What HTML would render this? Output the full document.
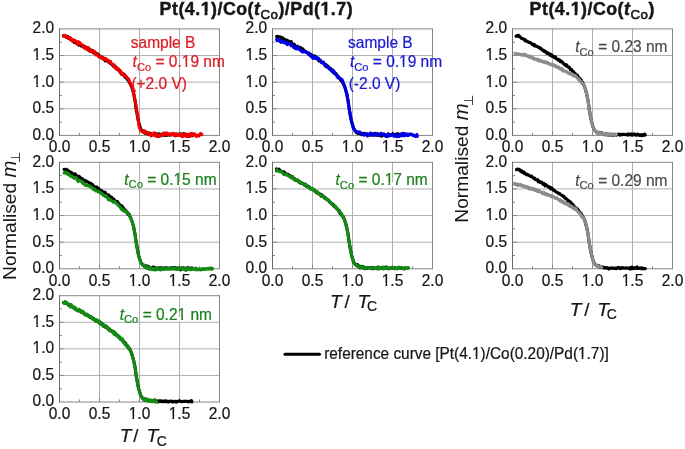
<!DOCTYPE html>
<html><head><meta charset="utf-8"><style>html,body{margin:0;padding:0;background:#fff;}svg{display:block;filter:blur(0.35px)}</style></head>
<body><svg width="685" height="449" viewBox="0 0 685 449">
<rect width="685" height="449" fill="#fff"/>
<line x1="99.50" y1="28.90" x2="99.50" y2="135.40" stroke="#b0b0b0" stroke-width="1"/>
<line x1="59.50" y1="108.78" x2="219.50" y2="108.78" stroke="#b0b0b0" stroke-width="1"/>
<line x1="139.50" y1="28.90" x2="139.50" y2="135.40" stroke="#b0b0b0" stroke-width="1"/>
<line x1="59.50" y1="82.15" x2="219.50" y2="82.15" stroke="#b0b0b0" stroke-width="1"/>
<line x1="179.50" y1="28.90" x2="179.50" y2="135.40" stroke="#b0b0b0" stroke-width="1"/>
<line x1="59.50" y1="55.53" x2="219.50" y2="55.53" stroke="#b0b0b0" stroke-width="1"/>
<line x1="79.50" y1="135.40" x2="79.50" y2="132.90" stroke="#858585" stroke-width="1"/>
<line x1="59.50" y1="122.09" x2="62.00" y2="122.09" stroke="#858585" stroke-width="1"/>
<line x1="99.50" y1="135.40" x2="99.50" y2="131.40" stroke="#858585" stroke-width="1"/>
<line x1="59.50" y1="108.78" x2="63.50" y2="108.78" stroke="#858585" stroke-width="1"/>
<line x1="119.50" y1="135.40" x2="119.50" y2="132.90" stroke="#858585" stroke-width="1"/>
<line x1="59.50" y1="95.46" x2="62.00" y2="95.46" stroke="#858585" stroke-width="1"/>
<line x1="139.50" y1="135.40" x2="139.50" y2="131.40" stroke="#858585" stroke-width="1"/>
<line x1="59.50" y1="82.15" x2="63.50" y2="82.15" stroke="#858585" stroke-width="1"/>
<line x1="159.50" y1="135.40" x2="159.50" y2="132.90" stroke="#858585" stroke-width="1"/>
<line x1="59.50" y1="68.84" x2="62.00" y2="68.84" stroke="#858585" stroke-width="1"/>
<line x1="179.50" y1="135.40" x2="179.50" y2="131.40" stroke="#858585" stroke-width="1"/>
<line x1="59.50" y1="55.53" x2="63.50" y2="55.53" stroke="#858585" stroke-width="1"/>
<line x1="199.50" y1="135.40" x2="199.50" y2="132.90" stroke="#858585" stroke-width="1"/>
<line x1="59.50" y1="42.21" x2="62.00" y2="42.21" stroke="#858585" stroke-width="1"/>
<rect x="59.50" y="28.90" width="160.00" height="106.50" fill="none" stroke="#858585" stroke-width="1"/>
<line x1="59.50" y1="28.40" x2="59.50" y2="135.90" stroke="#6c6c6c" stroke-width="1"/>
<g transform="translate(54.10,139.80) scale(1,1.05)"><text text-anchor="end" font-family="Liberation Sans, sans-serif" font-size="15.5" fill="#161616" stroke="#161616" stroke-width="0.22">0.0</text></g>
<g transform="translate(59.50,152.40) scale(1,1.05)"><text text-anchor="middle" font-family="Liberation Sans, sans-serif" font-size="15.5" fill="#161616" stroke="#161616" stroke-width="0.22">0.0</text></g>
<g transform="translate(54.10,113.18) scale(1,1.05)"><text text-anchor="end" font-family="Liberation Sans, sans-serif" font-size="15.5" fill="#161616" stroke="#161616" stroke-width="0.22">0.5</text></g>
<g transform="translate(99.50,152.40) scale(1,1.05)"><text text-anchor="middle" font-family="Liberation Sans, sans-serif" font-size="15.5" fill="#161616" stroke="#161616" stroke-width="0.22">0.5</text></g>
<g transform="translate(54.10,86.55) scale(1,1.05)"><text text-anchor="end" font-family="Liberation Sans, sans-serif" font-size="15.5" fill="#161616" stroke="#161616" stroke-width="0.22">1.0</text><rect x="-21.49" y="-2.46" width="3.66" height="3.86" fill="#fff"/><rect x="-16.08" y="-2.46" width="3.16" height="3.86" fill="#fff"/></g>
<g transform="translate(139.50,152.40) scale(1,1.05)"><text text-anchor="middle" font-family="Liberation Sans, sans-serif" font-size="15.5" fill="#161616" stroke="#161616" stroke-width="0.22">1.0</text><rect x="-10.72" y="-2.46" width="3.66" height="3.86" fill="#fff"/><rect x="-5.31" y="-2.46" width="3.16" height="3.86" fill="#fff"/></g>
<g transform="translate(54.10,59.93) scale(1,1.05)"><text text-anchor="end" font-family="Liberation Sans, sans-serif" font-size="15.5" fill="#161616" stroke="#161616" stroke-width="0.22">1.5</text><rect x="-21.49" y="-2.46" width="3.66" height="3.86" fill="#fff"/><rect x="-16.08" y="-2.46" width="3.16" height="3.86" fill="#fff"/></g>
<g transform="translate(179.50,152.40) scale(1,1.05)"><text text-anchor="middle" font-family="Liberation Sans, sans-serif" font-size="15.5" fill="#161616" stroke="#161616" stroke-width="0.22">1.5</text><rect x="-10.72" y="-2.46" width="3.66" height="3.86" fill="#fff"/><rect x="-5.31" y="-2.46" width="3.16" height="3.86" fill="#fff"/></g>
<g transform="translate(54.10,33.30) scale(1,1.05)"><text text-anchor="end" font-family="Liberation Sans, sans-serif" font-size="15.5" fill="#161616" stroke="#161616" stroke-width="0.22">2.0</text></g>
<g transform="translate(219.50,152.40) scale(1,1.05)"><text text-anchor="middle" font-family="Liberation Sans, sans-serif" font-size="15.5" fill="#161616" stroke="#161616" stroke-width="0.22">2.0</text></g>
<line x1="312.50" y1="28.90" x2="312.50" y2="135.40" stroke="#b0b0b0" stroke-width="1"/>
<line x1="272.50" y1="108.78" x2="432.50" y2="108.78" stroke="#b0b0b0" stroke-width="1"/>
<line x1="352.50" y1="28.90" x2="352.50" y2="135.40" stroke="#b0b0b0" stroke-width="1"/>
<line x1="272.50" y1="82.15" x2="432.50" y2="82.15" stroke="#b0b0b0" stroke-width="1"/>
<line x1="392.50" y1="28.90" x2="392.50" y2="135.40" stroke="#b0b0b0" stroke-width="1"/>
<line x1="272.50" y1="55.53" x2="432.50" y2="55.53" stroke="#b0b0b0" stroke-width="1"/>
<line x1="292.50" y1="135.40" x2="292.50" y2="132.90" stroke="#858585" stroke-width="1"/>
<line x1="272.50" y1="122.09" x2="275.00" y2="122.09" stroke="#858585" stroke-width="1"/>
<line x1="312.50" y1="135.40" x2="312.50" y2="131.40" stroke="#858585" stroke-width="1"/>
<line x1="272.50" y1="108.78" x2="276.50" y2="108.78" stroke="#858585" stroke-width="1"/>
<line x1="332.50" y1="135.40" x2="332.50" y2="132.90" stroke="#858585" stroke-width="1"/>
<line x1="272.50" y1="95.46" x2="275.00" y2="95.46" stroke="#858585" stroke-width="1"/>
<line x1="352.50" y1="135.40" x2="352.50" y2="131.40" stroke="#858585" stroke-width="1"/>
<line x1="272.50" y1="82.15" x2="276.50" y2="82.15" stroke="#858585" stroke-width="1"/>
<line x1="372.50" y1="135.40" x2="372.50" y2="132.90" stroke="#858585" stroke-width="1"/>
<line x1="272.50" y1="68.84" x2="275.00" y2="68.84" stroke="#858585" stroke-width="1"/>
<line x1="392.50" y1="135.40" x2="392.50" y2="131.40" stroke="#858585" stroke-width="1"/>
<line x1="272.50" y1="55.53" x2="276.50" y2="55.53" stroke="#858585" stroke-width="1"/>
<line x1="412.50" y1="135.40" x2="412.50" y2="132.90" stroke="#858585" stroke-width="1"/>
<line x1="272.50" y1="42.21" x2="275.00" y2="42.21" stroke="#858585" stroke-width="1"/>
<rect x="272.50" y="28.90" width="160.00" height="106.50" fill="none" stroke="#858585" stroke-width="1"/>
<line x1="272.50" y1="28.40" x2="272.50" y2="135.90" stroke="#6c6c6c" stroke-width="1"/>
<g transform="translate(267.10,139.80) scale(1,1.05)"><text text-anchor="end" font-family="Liberation Sans, sans-serif" font-size="15.5" fill="#161616" stroke="#161616" stroke-width="0.22">0.0</text></g>
<g transform="translate(272.50,152.40) scale(1,1.05)"><text text-anchor="middle" font-family="Liberation Sans, sans-serif" font-size="15.5" fill="#161616" stroke="#161616" stroke-width="0.22">0.0</text></g>
<g transform="translate(267.10,113.18) scale(1,1.05)"><text text-anchor="end" font-family="Liberation Sans, sans-serif" font-size="15.5" fill="#161616" stroke="#161616" stroke-width="0.22">0.5</text></g>
<g transform="translate(312.50,152.40) scale(1,1.05)"><text text-anchor="middle" font-family="Liberation Sans, sans-serif" font-size="15.5" fill="#161616" stroke="#161616" stroke-width="0.22">0.5</text></g>
<g transform="translate(267.10,86.55) scale(1,1.05)"><text text-anchor="end" font-family="Liberation Sans, sans-serif" font-size="15.5" fill="#161616" stroke="#161616" stroke-width="0.22">1.0</text><rect x="-21.49" y="-2.46" width="3.66" height="3.86" fill="#fff"/><rect x="-16.08" y="-2.46" width="3.16" height="3.86" fill="#fff"/></g>
<g transform="translate(352.50,152.40) scale(1,1.05)"><text text-anchor="middle" font-family="Liberation Sans, sans-serif" font-size="15.5" fill="#161616" stroke="#161616" stroke-width="0.22">1.0</text><rect x="-10.72" y="-2.46" width="3.66" height="3.86" fill="#fff"/><rect x="-5.31" y="-2.46" width="3.16" height="3.86" fill="#fff"/></g>
<g transform="translate(267.10,59.93) scale(1,1.05)"><text text-anchor="end" font-family="Liberation Sans, sans-serif" font-size="15.5" fill="#161616" stroke="#161616" stroke-width="0.22">1.5</text><rect x="-21.49" y="-2.46" width="3.66" height="3.86" fill="#fff"/><rect x="-16.08" y="-2.46" width="3.16" height="3.86" fill="#fff"/></g>
<g transform="translate(392.50,152.40) scale(1,1.05)"><text text-anchor="middle" font-family="Liberation Sans, sans-serif" font-size="15.5" fill="#161616" stroke="#161616" stroke-width="0.22">1.5</text><rect x="-10.72" y="-2.46" width="3.66" height="3.86" fill="#fff"/><rect x="-5.31" y="-2.46" width="3.16" height="3.86" fill="#fff"/></g>
<g transform="translate(267.10,33.30) scale(1,1.05)"><text text-anchor="end" font-family="Liberation Sans, sans-serif" font-size="15.5" fill="#161616" stroke="#161616" stroke-width="0.22">2.0</text></g>
<g transform="translate(432.50,152.40) scale(1,1.05)"><text text-anchor="middle" font-family="Liberation Sans, sans-serif" font-size="15.5" fill="#161616" stroke="#161616" stroke-width="0.22">2.0</text></g>
<line x1="552.50" y1="28.90" x2="552.50" y2="135.40" stroke="#b0b0b0" stroke-width="1"/>
<line x1="512.50" y1="108.78" x2="672.50" y2="108.78" stroke="#b0b0b0" stroke-width="1"/>
<line x1="592.50" y1="28.90" x2="592.50" y2="135.40" stroke="#b0b0b0" stroke-width="1"/>
<line x1="512.50" y1="82.15" x2="672.50" y2="82.15" stroke="#b0b0b0" stroke-width="1"/>
<line x1="632.50" y1="28.90" x2="632.50" y2="135.40" stroke="#b0b0b0" stroke-width="1"/>
<line x1="512.50" y1="55.53" x2="672.50" y2="55.53" stroke="#b0b0b0" stroke-width="1"/>
<line x1="532.50" y1="135.40" x2="532.50" y2="132.90" stroke="#858585" stroke-width="1"/>
<line x1="512.50" y1="122.09" x2="515.00" y2="122.09" stroke="#858585" stroke-width="1"/>
<line x1="552.50" y1="135.40" x2="552.50" y2="131.40" stroke="#858585" stroke-width="1"/>
<line x1="512.50" y1="108.78" x2="516.50" y2="108.78" stroke="#858585" stroke-width="1"/>
<line x1="572.50" y1="135.40" x2="572.50" y2="132.90" stroke="#858585" stroke-width="1"/>
<line x1="512.50" y1="95.46" x2="515.00" y2="95.46" stroke="#858585" stroke-width="1"/>
<line x1="592.50" y1="135.40" x2="592.50" y2="131.40" stroke="#858585" stroke-width="1"/>
<line x1="512.50" y1="82.15" x2="516.50" y2="82.15" stroke="#858585" stroke-width="1"/>
<line x1="612.50" y1="135.40" x2="612.50" y2="132.90" stroke="#858585" stroke-width="1"/>
<line x1="512.50" y1="68.84" x2="515.00" y2="68.84" stroke="#858585" stroke-width="1"/>
<line x1="632.50" y1="135.40" x2="632.50" y2="131.40" stroke="#858585" stroke-width="1"/>
<line x1="512.50" y1="55.53" x2="516.50" y2="55.53" stroke="#858585" stroke-width="1"/>
<line x1="652.50" y1="135.40" x2="652.50" y2="132.90" stroke="#858585" stroke-width="1"/>
<line x1="512.50" y1="42.21" x2="515.00" y2="42.21" stroke="#858585" stroke-width="1"/>
<rect x="512.50" y="28.90" width="160.00" height="106.50" fill="none" stroke="#858585" stroke-width="1"/>
<line x1="512.50" y1="28.40" x2="512.50" y2="135.90" stroke="#6c6c6c" stroke-width="1"/>
<g transform="translate(507.10,139.80) scale(1,1.05)"><text text-anchor="end" font-family="Liberation Sans, sans-serif" font-size="15.5" fill="#161616" stroke="#161616" stroke-width="0.22">0.0</text></g>
<g transform="translate(512.50,152.40) scale(1,1.05)"><text text-anchor="middle" font-family="Liberation Sans, sans-serif" font-size="15.5" fill="#161616" stroke="#161616" stroke-width="0.22">0.0</text></g>
<g transform="translate(507.10,113.18) scale(1,1.05)"><text text-anchor="end" font-family="Liberation Sans, sans-serif" font-size="15.5" fill="#161616" stroke="#161616" stroke-width="0.22">0.5</text></g>
<g transform="translate(552.50,152.40) scale(1,1.05)"><text text-anchor="middle" font-family="Liberation Sans, sans-serif" font-size="15.5" fill="#161616" stroke="#161616" stroke-width="0.22">0.5</text></g>
<g transform="translate(507.10,86.55) scale(1,1.05)"><text text-anchor="end" font-family="Liberation Sans, sans-serif" font-size="15.5" fill="#161616" stroke="#161616" stroke-width="0.22">1.0</text><rect x="-21.49" y="-2.46" width="3.66" height="3.86" fill="#fff"/><rect x="-16.08" y="-2.46" width="3.16" height="3.86" fill="#fff"/></g>
<g transform="translate(592.50,152.40) scale(1,1.05)"><text text-anchor="middle" font-family="Liberation Sans, sans-serif" font-size="15.5" fill="#161616" stroke="#161616" stroke-width="0.22">1.0</text><rect x="-10.72" y="-2.46" width="3.66" height="3.86" fill="#fff"/><rect x="-5.31" y="-2.46" width="3.16" height="3.86" fill="#fff"/></g>
<g transform="translate(507.10,59.93) scale(1,1.05)"><text text-anchor="end" font-family="Liberation Sans, sans-serif" font-size="15.5" fill="#161616" stroke="#161616" stroke-width="0.22">1.5</text><rect x="-21.49" y="-2.46" width="3.66" height="3.86" fill="#fff"/><rect x="-16.08" y="-2.46" width="3.16" height="3.86" fill="#fff"/></g>
<g transform="translate(632.50,152.40) scale(1,1.05)"><text text-anchor="middle" font-family="Liberation Sans, sans-serif" font-size="15.5" fill="#161616" stroke="#161616" stroke-width="0.22">1.5</text><rect x="-10.72" y="-2.46" width="3.66" height="3.86" fill="#fff"/><rect x="-5.31" y="-2.46" width="3.16" height="3.86" fill="#fff"/></g>
<g transform="translate(507.10,33.30) scale(1,1.05)"><text text-anchor="end" font-family="Liberation Sans, sans-serif" font-size="15.5" fill="#161616" stroke="#161616" stroke-width="0.22">2.0</text></g>
<g transform="translate(672.50,152.40) scale(1,1.05)"><text text-anchor="middle" font-family="Liberation Sans, sans-serif" font-size="15.5" fill="#161616" stroke="#161616" stroke-width="0.22">2.0</text></g>
<line x1="99.50" y1="162.30" x2="99.50" y2="268.80" stroke="#b0b0b0" stroke-width="1"/>
<line x1="59.50" y1="242.18" x2="219.50" y2="242.18" stroke="#b0b0b0" stroke-width="1"/>
<line x1="139.50" y1="162.30" x2="139.50" y2="268.80" stroke="#b0b0b0" stroke-width="1"/>
<line x1="59.50" y1="215.55" x2="219.50" y2="215.55" stroke="#b0b0b0" stroke-width="1"/>
<line x1="179.50" y1="162.30" x2="179.50" y2="268.80" stroke="#b0b0b0" stroke-width="1"/>
<line x1="59.50" y1="188.93" x2="219.50" y2="188.93" stroke="#b0b0b0" stroke-width="1"/>
<line x1="79.50" y1="268.80" x2="79.50" y2="266.30" stroke="#858585" stroke-width="1"/>
<line x1="59.50" y1="255.49" x2="62.00" y2="255.49" stroke="#858585" stroke-width="1"/>
<line x1="99.50" y1="268.80" x2="99.50" y2="264.80" stroke="#858585" stroke-width="1"/>
<line x1="59.50" y1="242.18" x2="63.50" y2="242.18" stroke="#858585" stroke-width="1"/>
<line x1="119.50" y1="268.80" x2="119.50" y2="266.30" stroke="#858585" stroke-width="1"/>
<line x1="59.50" y1="228.86" x2="62.00" y2="228.86" stroke="#858585" stroke-width="1"/>
<line x1="139.50" y1="268.80" x2="139.50" y2="264.80" stroke="#858585" stroke-width="1"/>
<line x1="59.50" y1="215.55" x2="63.50" y2="215.55" stroke="#858585" stroke-width="1"/>
<line x1="159.50" y1="268.80" x2="159.50" y2="266.30" stroke="#858585" stroke-width="1"/>
<line x1="59.50" y1="202.24" x2="62.00" y2="202.24" stroke="#858585" stroke-width="1"/>
<line x1="179.50" y1="268.80" x2="179.50" y2="264.80" stroke="#858585" stroke-width="1"/>
<line x1="59.50" y1="188.93" x2="63.50" y2="188.93" stroke="#858585" stroke-width="1"/>
<line x1="199.50" y1="268.80" x2="199.50" y2="266.30" stroke="#858585" stroke-width="1"/>
<line x1="59.50" y1="175.61" x2="62.00" y2="175.61" stroke="#858585" stroke-width="1"/>
<rect x="59.50" y="162.30" width="160.00" height="106.50" fill="none" stroke="#858585" stroke-width="1"/>
<line x1="59.50" y1="161.80" x2="59.50" y2="269.30" stroke="#6c6c6c" stroke-width="1"/>
<g transform="translate(54.10,273.20) scale(1,1.05)"><text text-anchor="end" font-family="Liberation Sans, sans-serif" font-size="15.5" fill="#161616" stroke="#161616" stroke-width="0.22">0.0</text></g>
<g transform="translate(59.50,285.80) scale(1,1.05)"><text text-anchor="middle" font-family="Liberation Sans, sans-serif" font-size="15.5" fill="#161616" stroke="#161616" stroke-width="0.22">0.0</text></g>
<g transform="translate(54.10,246.58) scale(1,1.05)"><text text-anchor="end" font-family="Liberation Sans, sans-serif" font-size="15.5" fill="#161616" stroke="#161616" stroke-width="0.22">0.5</text></g>
<g transform="translate(99.50,285.80) scale(1,1.05)"><text text-anchor="middle" font-family="Liberation Sans, sans-serif" font-size="15.5" fill="#161616" stroke="#161616" stroke-width="0.22">0.5</text></g>
<g transform="translate(54.10,219.95) scale(1,1.05)"><text text-anchor="end" font-family="Liberation Sans, sans-serif" font-size="15.5" fill="#161616" stroke="#161616" stroke-width="0.22">1.0</text><rect x="-21.49" y="-2.46" width="3.66" height="3.86" fill="#fff"/><rect x="-16.08" y="-2.46" width="3.16" height="3.86" fill="#fff"/></g>
<g transform="translate(139.50,285.80) scale(1,1.05)"><text text-anchor="middle" font-family="Liberation Sans, sans-serif" font-size="15.5" fill="#161616" stroke="#161616" stroke-width="0.22">1.0</text><rect x="-10.72" y="-2.46" width="3.66" height="3.86" fill="#fff"/><rect x="-5.31" y="-2.46" width="3.16" height="3.86" fill="#fff"/></g>
<g transform="translate(54.10,193.33) scale(1,1.05)"><text text-anchor="end" font-family="Liberation Sans, sans-serif" font-size="15.5" fill="#161616" stroke="#161616" stroke-width="0.22">1.5</text><rect x="-21.49" y="-2.46" width="3.66" height="3.86" fill="#fff"/><rect x="-16.08" y="-2.46" width="3.16" height="3.86" fill="#fff"/></g>
<g transform="translate(179.50,285.80) scale(1,1.05)"><text text-anchor="middle" font-family="Liberation Sans, sans-serif" font-size="15.5" fill="#161616" stroke="#161616" stroke-width="0.22">1.5</text><rect x="-10.72" y="-2.46" width="3.66" height="3.86" fill="#fff"/><rect x="-5.31" y="-2.46" width="3.16" height="3.86" fill="#fff"/></g>
<g transform="translate(54.10,166.70) scale(1,1.05)"><text text-anchor="end" font-family="Liberation Sans, sans-serif" font-size="15.5" fill="#161616" stroke="#161616" stroke-width="0.22">2.0</text></g>
<g transform="translate(219.50,285.80) scale(1,1.05)"><text text-anchor="middle" font-family="Liberation Sans, sans-serif" font-size="15.5" fill="#161616" stroke="#161616" stroke-width="0.22">2.0</text></g>
<line x1="312.50" y1="162.30" x2="312.50" y2="268.80" stroke="#b0b0b0" stroke-width="1"/>
<line x1="272.50" y1="242.18" x2="432.50" y2="242.18" stroke="#b0b0b0" stroke-width="1"/>
<line x1="352.50" y1="162.30" x2="352.50" y2="268.80" stroke="#b0b0b0" stroke-width="1"/>
<line x1="272.50" y1="215.55" x2="432.50" y2="215.55" stroke="#b0b0b0" stroke-width="1"/>
<line x1="392.50" y1="162.30" x2="392.50" y2="268.80" stroke="#b0b0b0" stroke-width="1"/>
<line x1="272.50" y1="188.93" x2="432.50" y2="188.93" stroke="#b0b0b0" stroke-width="1"/>
<line x1="292.50" y1="268.80" x2="292.50" y2="266.30" stroke="#858585" stroke-width="1"/>
<line x1="272.50" y1="255.49" x2="275.00" y2="255.49" stroke="#858585" stroke-width="1"/>
<line x1="312.50" y1="268.80" x2="312.50" y2="264.80" stroke="#858585" stroke-width="1"/>
<line x1="272.50" y1="242.18" x2="276.50" y2="242.18" stroke="#858585" stroke-width="1"/>
<line x1="332.50" y1="268.80" x2="332.50" y2="266.30" stroke="#858585" stroke-width="1"/>
<line x1="272.50" y1="228.86" x2="275.00" y2="228.86" stroke="#858585" stroke-width="1"/>
<line x1="352.50" y1="268.80" x2="352.50" y2="264.80" stroke="#858585" stroke-width="1"/>
<line x1="272.50" y1="215.55" x2="276.50" y2="215.55" stroke="#858585" stroke-width="1"/>
<line x1="372.50" y1="268.80" x2="372.50" y2="266.30" stroke="#858585" stroke-width="1"/>
<line x1="272.50" y1="202.24" x2="275.00" y2="202.24" stroke="#858585" stroke-width="1"/>
<line x1="392.50" y1="268.80" x2="392.50" y2="264.80" stroke="#858585" stroke-width="1"/>
<line x1="272.50" y1="188.93" x2="276.50" y2="188.93" stroke="#858585" stroke-width="1"/>
<line x1="412.50" y1="268.80" x2="412.50" y2="266.30" stroke="#858585" stroke-width="1"/>
<line x1="272.50" y1="175.61" x2="275.00" y2="175.61" stroke="#858585" stroke-width="1"/>
<rect x="272.50" y="162.30" width="160.00" height="106.50" fill="none" stroke="#858585" stroke-width="1"/>
<line x1="272.50" y1="161.80" x2="272.50" y2="269.30" stroke="#6c6c6c" stroke-width="1"/>
<g transform="translate(267.10,273.20) scale(1,1.05)"><text text-anchor="end" font-family="Liberation Sans, sans-serif" font-size="15.5" fill="#161616" stroke="#161616" stroke-width="0.22">0.0</text></g>
<g transform="translate(272.50,285.80) scale(1,1.05)"><text text-anchor="middle" font-family="Liberation Sans, sans-serif" font-size="15.5" fill="#161616" stroke="#161616" stroke-width="0.22">0.0</text></g>
<g transform="translate(267.10,246.58) scale(1,1.05)"><text text-anchor="end" font-family="Liberation Sans, sans-serif" font-size="15.5" fill="#161616" stroke="#161616" stroke-width="0.22">0.5</text></g>
<g transform="translate(312.50,285.80) scale(1,1.05)"><text text-anchor="middle" font-family="Liberation Sans, sans-serif" font-size="15.5" fill="#161616" stroke="#161616" stroke-width="0.22">0.5</text></g>
<g transform="translate(267.10,219.95) scale(1,1.05)"><text text-anchor="end" font-family="Liberation Sans, sans-serif" font-size="15.5" fill="#161616" stroke="#161616" stroke-width="0.22">1.0</text><rect x="-21.49" y="-2.46" width="3.66" height="3.86" fill="#fff"/><rect x="-16.08" y="-2.46" width="3.16" height="3.86" fill="#fff"/></g>
<g transform="translate(352.50,285.80) scale(1,1.05)"><text text-anchor="middle" font-family="Liberation Sans, sans-serif" font-size="15.5" fill="#161616" stroke="#161616" stroke-width="0.22">1.0</text><rect x="-10.72" y="-2.46" width="3.66" height="3.86" fill="#fff"/><rect x="-5.31" y="-2.46" width="3.16" height="3.86" fill="#fff"/></g>
<g transform="translate(267.10,193.33) scale(1,1.05)"><text text-anchor="end" font-family="Liberation Sans, sans-serif" font-size="15.5" fill="#161616" stroke="#161616" stroke-width="0.22">1.5</text><rect x="-21.49" y="-2.46" width="3.66" height="3.86" fill="#fff"/><rect x="-16.08" y="-2.46" width="3.16" height="3.86" fill="#fff"/></g>
<g transform="translate(392.50,285.80) scale(1,1.05)"><text text-anchor="middle" font-family="Liberation Sans, sans-serif" font-size="15.5" fill="#161616" stroke="#161616" stroke-width="0.22">1.5</text><rect x="-10.72" y="-2.46" width="3.66" height="3.86" fill="#fff"/><rect x="-5.31" y="-2.46" width="3.16" height="3.86" fill="#fff"/></g>
<g transform="translate(267.10,166.70) scale(1,1.05)"><text text-anchor="end" font-family="Liberation Sans, sans-serif" font-size="15.5" fill="#161616" stroke="#161616" stroke-width="0.22">2.0</text></g>
<g transform="translate(432.50,285.80) scale(1,1.05)"><text text-anchor="middle" font-family="Liberation Sans, sans-serif" font-size="15.5" fill="#161616" stroke="#161616" stroke-width="0.22">2.0</text></g>
<line x1="552.50" y1="162.30" x2="552.50" y2="268.80" stroke="#b0b0b0" stroke-width="1"/>
<line x1="512.50" y1="242.18" x2="672.50" y2="242.18" stroke="#b0b0b0" stroke-width="1"/>
<line x1="592.50" y1="162.30" x2="592.50" y2="268.80" stroke="#b0b0b0" stroke-width="1"/>
<line x1="512.50" y1="215.55" x2="672.50" y2="215.55" stroke="#b0b0b0" stroke-width="1"/>
<line x1="632.50" y1="162.30" x2="632.50" y2="268.80" stroke="#b0b0b0" stroke-width="1"/>
<line x1="512.50" y1="188.93" x2="672.50" y2="188.93" stroke="#b0b0b0" stroke-width="1"/>
<line x1="532.50" y1="268.80" x2="532.50" y2="266.30" stroke="#858585" stroke-width="1"/>
<line x1="512.50" y1="255.49" x2="515.00" y2="255.49" stroke="#858585" stroke-width="1"/>
<line x1="552.50" y1="268.80" x2="552.50" y2="264.80" stroke="#858585" stroke-width="1"/>
<line x1="512.50" y1="242.18" x2="516.50" y2="242.18" stroke="#858585" stroke-width="1"/>
<line x1="572.50" y1="268.80" x2="572.50" y2="266.30" stroke="#858585" stroke-width="1"/>
<line x1="512.50" y1="228.86" x2="515.00" y2="228.86" stroke="#858585" stroke-width="1"/>
<line x1="592.50" y1="268.80" x2="592.50" y2="264.80" stroke="#858585" stroke-width="1"/>
<line x1="512.50" y1="215.55" x2="516.50" y2="215.55" stroke="#858585" stroke-width="1"/>
<line x1="612.50" y1="268.80" x2="612.50" y2="266.30" stroke="#858585" stroke-width="1"/>
<line x1="512.50" y1="202.24" x2="515.00" y2="202.24" stroke="#858585" stroke-width="1"/>
<line x1="632.50" y1="268.80" x2="632.50" y2="264.80" stroke="#858585" stroke-width="1"/>
<line x1="512.50" y1="188.93" x2="516.50" y2="188.93" stroke="#858585" stroke-width="1"/>
<line x1="652.50" y1="268.80" x2="652.50" y2="266.30" stroke="#858585" stroke-width="1"/>
<line x1="512.50" y1="175.61" x2="515.00" y2="175.61" stroke="#858585" stroke-width="1"/>
<rect x="512.50" y="162.30" width="160.00" height="106.50" fill="none" stroke="#858585" stroke-width="1"/>
<line x1="512.50" y1="161.80" x2="512.50" y2="269.30" stroke="#6c6c6c" stroke-width="1"/>
<g transform="translate(507.10,273.20) scale(1,1.05)"><text text-anchor="end" font-family="Liberation Sans, sans-serif" font-size="15.5" fill="#161616" stroke="#161616" stroke-width="0.22">0.0</text></g>
<g transform="translate(512.50,285.80) scale(1,1.05)"><text text-anchor="middle" font-family="Liberation Sans, sans-serif" font-size="15.5" fill="#161616" stroke="#161616" stroke-width="0.22">0.0</text></g>
<g transform="translate(507.10,246.58) scale(1,1.05)"><text text-anchor="end" font-family="Liberation Sans, sans-serif" font-size="15.5" fill="#161616" stroke="#161616" stroke-width="0.22">0.5</text></g>
<g transform="translate(552.50,285.80) scale(1,1.05)"><text text-anchor="middle" font-family="Liberation Sans, sans-serif" font-size="15.5" fill="#161616" stroke="#161616" stroke-width="0.22">0.5</text></g>
<g transform="translate(507.10,219.95) scale(1,1.05)"><text text-anchor="end" font-family="Liberation Sans, sans-serif" font-size="15.5" fill="#161616" stroke="#161616" stroke-width="0.22">1.0</text><rect x="-21.49" y="-2.46" width="3.66" height="3.86" fill="#fff"/><rect x="-16.08" y="-2.46" width="3.16" height="3.86" fill="#fff"/></g>
<g transform="translate(592.50,285.80) scale(1,1.05)"><text text-anchor="middle" font-family="Liberation Sans, sans-serif" font-size="15.5" fill="#161616" stroke="#161616" stroke-width="0.22">1.0</text><rect x="-10.72" y="-2.46" width="3.66" height="3.86" fill="#fff"/><rect x="-5.31" y="-2.46" width="3.16" height="3.86" fill="#fff"/></g>
<g transform="translate(507.10,193.33) scale(1,1.05)"><text text-anchor="end" font-family="Liberation Sans, sans-serif" font-size="15.5" fill="#161616" stroke="#161616" stroke-width="0.22">1.5</text><rect x="-21.49" y="-2.46" width="3.66" height="3.86" fill="#fff"/><rect x="-16.08" y="-2.46" width="3.16" height="3.86" fill="#fff"/></g>
<g transform="translate(632.50,285.80) scale(1,1.05)"><text text-anchor="middle" font-family="Liberation Sans, sans-serif" font-size="15.5" fill="#161616" stroke="#161616" stroke-width="0.22">1.5</text><rect x="-10.72" y="-2.46" width="3.66" height="3.86" fill="#fff"/><rect x="-5.31" y="-2.46" width="3.16" height="3.86" fill="#fff"/></g>
<g transform="translate(507.10,166.70) scale(1,1.05)"><text text-anchor="end" font-family="Liberation Sans, sans-serif" font-size="15.5" fill="#161616" stroke="#161616" stroke-width="0.22">2.0</text></g>
<g transform="translate(672.50,285.80) scale(1,1.05)"><text text-anchor="middle" font-family="Liberation Sans, sans-serif" font-size="15.5" fill="#161616" stroke="#161616" stroke-width="0.22">2.0</text></g>
<line x1="99.50" y1="295.70" x2="99.50" y2="402.00" stroke="#b0b0b0" stroke-width="1"/>
<line x1="59.50" y1="375.43" x2="219.50" y2="375.43" stroke="#b0b0b0" stroke-width="1"/>
<line x1="139.50" y1="295.70" x2="139.50" y2="402.00" stroke="#b0b0b0" stroke-width="1"/>
<line x1="59.50" y1="348.85" x2="219.50" y2="348.85" stroke="#b0b0b0" stroke-width="1"/>
<line x1="179.50" y1="295.70" x2="179.50" y2="402.00" stroke="#b0b0b0" stroke-width="1"/>
<line x1="59.50" y1="322.27" x2="219.50" y2="322.27" stroke="#b0b0b0" stroke-width="1"/>
<line x1="79.50" y1="402.00" x2="79.50" y2="399.50" stroke="#858585" stroke-width="1"/>
<line x1="59.50" y1="388.71" x2="62.00" y2="388.71" stroke="#858585" stroke-width="1"/>
<line x1="99.50" y1="402.00" x2="99.50" y2="398.00" stroke="#858585" stroke-width="1"/>
<line x1="59.50" y1="375.43" x2="63.50" y2="375.43" stroke="#858585" stroke-width="1"/>
<line x1="119.50" y1="402.00" x2="119.50" y2="399.50" stroke="#858585" stroke-width="1"/>
<line x1="59.50" y1="362.14" x2="62.00" y2="362.14" stroke="#858585" stroke-width="1"/>
<line x1="139.50" y1="402.00" x2="139.50" y2="398.00" stroke="#858585" stroke-width="1"/>
<line x1="59.50" y1="348.85" x2="63.50" y2="348.85" stroke="#858585" stroke-width="1"/>
<line x1="159.50" y1="402.00" x2="159.50" y2="399.50" stroke="#858585" stroke-width="1"/>
<line x1="59.50" y1="335.56" x2="62.00" y2="335.56" stroke="#858585" stroke-width="1"/>
<line x1="179.50" y1="402.00" x2="179.50" y2="398.00" stroke="#858585" stroke-width="1"/>
<line x1="59.50" y1="322.27" x2="63.50" y2="322.27" stroke="#858585" stroke-width="1"/>
<line x1="199.50" y1="402.00" x2="199.50" y2="399.50" stroke="#858585" stroke-width="1"/>
<line x1="59.50" y1="308.99" x2="62.00" y2="308.99" stroke="#858585" stroke-width="1"/>
<rect x="59.50" y="295.70" width="160.00" height="106.30" fill="none" stroke="#858585" stroke-width="1"/>
<line x1="59.50" y1="295.20" x2="59.50" y2="402.50" stroke="#6c6c6c" stroke-width="1"/>
<g transform="translate(54.10,406.40) scale(1,1.05)"><text text-anchor="end" font-family="Liberation Sans, sans-serif" font-size="15.5" fill="#161616" stroke="#161616" stroke-width="0.22">0.0</text></g>
<g transform="translate(59.50,419.00) scale(1,1.05)"><text text-anchor="middle" font-family="Liberation Sans, sans-serif" font-size="15.5" fill="#161616" stroke="#161616" stroke-width="0.22">0.0</text></g>
<g transform="translate(54.10,379.82) scale(1,1.05)"><text text-anchor="end" font-family="Liberation Sans, sans-serif" font-size="15.5" fill="#161616" stroke="#161616" stroke-width="0.22">0.5</text></g>
<g transform="translate(99.50,419.00) scale(1,1.05)"><text text-anchor="middle" font-family="Liberation Sans, sans-serif" font-size="15.5" fill="#161616" stroke="#161616" stroke-width="0.22">0.5</text></g>
<g transform="translate(54.10,353.25) scale(1,1.05)"><text text-anchor="end" font-family="Liberation Sans, sans-serif" font-size="15.5" fill="#161616" stroke="#161616" stroke-width="0.22">1.0</text><rect x="-21.49" y="-2.46" width="3.66" height="3.86" fill="#fff"/><rect x="-16.08" y="-2.46" width="3.16" height="3.86" fill="#fff"/></g>
<g transform="translate(139.50,419.00) scale(1,1.05)"><text text-anchor="middle" font-family="Liberation Sans, sans-serif" font-size="15.5" fill="#161616" stroke="#161616" stroke-width="0.22">1.0</text><rect x="-10.72" y="-2.46" width="3.66" height="3.86" fill="#fff"/><rect x="-5.31" y="-2.46" width="3.16" height="3.86" fill="#fff"/></g>
<g transform="translate(54.10,326.67) scale(1,1.05)"><text text-anchor="end" font-family="Liberation Sans, sans-serif" font-size="15.5" fill="#161616" stroke="#161616" stroke-width="0.22">1.5</text><rect x="-21.49" y="-2.46" width="3.66" height="3.86" fill="#fff"/><rect x="-16.08" y="-2.46" width="3.16" height="3.86" fill="#fff"/></g>
<g transform="translate(179.50,419.00) scale(1,1.05)"><text text-anchor="middle" font-family="Liberation Sans, sans-serif" font-size="15.5" fill="#161616" stroke="#161616" stroke-width="0.22">1.5</text><rect x="-10.72" y="-2.46" width="3.66" height="3.86" fill="#fff"/><rect x="-5.31" y="-2.46" width="3.16" height="3.86" fill="#fff"/></g>
<g transform="translate(54.10,300.10) scale(1,1.05)"><text text-anchor="end" font-family="Liberation Sans, sans-serif" font-size="15.5" fill="#161616" stroke="#161616" stroke-width="0.22">2.0</text></g>
<g transform="translate(219.50,419.00) scale(1,1.05)"><text text-anchor="middle" font-family="Liberation Sans, sans-serif" font-size="15.5" fill="#161616" stroke="#161616" stroke-width="0.22">2.0</text></g>
<polyline points="63.5,35.9 64.1,35.7 64.7,36.1 65.3,36.6 65.9,36.4 66.4,37.1 67.0,36.7 67.6,36.3 68.2,37.8 68.8,38.3 69.4,37.9 70.0,38.4 70.6,38.9 71.1,39.9 71.7,39.7 72.3,39.6 72.9,41.2 73.5,41.0 74.1,42.2 74.7,42.1 75.3,42.8 75.9,42.1 76.4,43.1 77.0,42.4 77.6,42.8 78.2,43.4 78.8,45.2 79.4,44.3 80.0,44.3 80.6,44.6 81.1,46.0 81.7,45.6 82.3,46.3 82.9,46.6 83.5,45.7 84.1,47.2 84.7,47.1 85.3,46.9 85.8,48.1 86.4,48.2 87.0,48.4 87.6,48.8 88.2,49.9 88.8,49.5 89.4,49.0 90.0,51.2 90.6,50.0 91.1,50.8 91.7,51.6 92.3,50.3 92.9,51.4 93.5,53.0 94.1,52.6 94.7,52.6 95.3,53.4 95.8,53.2 96.4,54.0 97.0,53.9 97.6,53.8 98.2,55.5 98.8,55.2 99.4,56.0 100.0,56.0 100.6,57.3 101.1,57.3 101.7,57.4 102.3,57.1 102.9,57.4 103.5,59.3 104.1,59.4 104.7,58.9 105.3,61.0 105.8,60.4 106.4,60.6 107.0,60.1 107.6,60.8 108.2,61.9 108.8,62.4 109.4,62.7 110.0,62.0 110.6,63.7 111.1,64.1 111.7,64.1 112.3,64.9 112.9,65.4 113.5,66.4 114.1,66.2 114.7,66.9 115.3,66.3 115.8,67.1 116.4,68.1 117.0,68.2 117.6,69.4 118.2,69.1 118.8,70.3 119.4,70.4 120.0,72.2 120.5,71.7 121.1,73.5 121.7,74.3 122.3,73.7 122.9,74.7 123.5,74.7 124.1,74.1 124.7,76.7 125.3,77.3 125.8,77.5 126.4,78.0 127.0,79.1 127.6,79.8 128.2,80.0 128.8,81.0 129.4,82.9 130.0,83.3 130.5,84.3 131.1,85.9 131.7,87.0 132.3,89.2 132.9,90.8 133.5,93.1 134.1,95.8 134.7,99.0 135.3,102.2 135.8,107.0 136.4,110.8 137.0,113.5 137.6,117.3 138.2,119.6 138.8,122.9 139.4,124.3 140.0,126.8 140.5,128.3 141.1,129.4 141.7,130.7 142.3,130.8 142.9,131.2 143.5,132.1 144.1,132.7 144.7,132.7 145.2,133.4 145.8,132.2 146.4,133.4 147.0,133.3 147.6,133.9 148.2,133.9 148.8,134.5 149.4,133.0 150.0,134.1 150.5,133.4 151.1,134.1 151.7,134.6 152.3,134.5 152.9,134.7 153.5,134.4 154.1,134.7 154.7,134.7 155.2,135.5 155.8,135.2 156.4,133.6 157.0,135.1 157.6,135.3 158.2,134.5 158.8,133.8 159.4,135.6 160.0,134.8 160.5,135.1 161.1,135.8 161.7,134.2 162.3,134.7 162.9,134.7 163.5,135.2 164.1,134.4 164.7,135.1 165.2,134.8 165.8,135.4 166.4,135.5 167.0,133.9 167.6,135.0 168.2,134.5 168.8,134.8 169.4,135.0 170.0,135.1 170.5,134.3 171.1,134.9 171.7,134.8 172.3,134.7 172.9,134.0 173.5,134.3 174.1,134.5 174.7,135.1 175.2,135.7 175.8,134.2 176.4,134.2 177.0,134.9 177.6,134.4 178.2,134.3 178.8,134.3 179.4,134.2 179.9,135.1 180.5,133.8 181.1,135.6 181.7,134.3 182.3,134.5 182.9,134.3 183.5,133.6 184.1,133.9 184.7,135.6 185.2,135.9 185.8,134.3 186.4,135.5 187.0,134.8 187.6,134.3 188.2,135.9 188.8,136.2 189.4,134.7 189.9,134.8 190.5,135.0 191.1,134.8 191.7,135.4 192.3,135.8" fill="none" stroke="#000" stroke-width="3.1" stroke-linejoin="round" stroke-linecap="round"/>
<polyline points="63.5,35.3 64.0,36.0 64.4,36.5 64.9,35.3 65.4,35.8 65.8,35.7 66.3,36.9 66.7,37.1 67.2,37.6 67.7,37.9 68.1,37.5 68.6,38.4 69.1,37.9 69.5,38.2 70.0,37.4 70.4,39.8 70.9,38.6 71.4,39.5 71.8,39.6 72.3,40.8 72.8,40.4 73.2,39.8 73.7,40.6 74.1,40.6 74.6,41.1 75.1,40.4 75.5,41.3 76.0,42.9 76.5,42.1 76.9,43.2 77.4,44.2 77.8,42.7 78.3,41.7 78.8,42.8 79.2,43.8 79.7,43.9 80.2,42.8 80.6,43.8 81.1,44.2 81.6,44.7 82.0,45.1 82.5,45.0 82.9,45.7 83.4,46.4 83.9,47.7 84.3,47.1 84.8,48.1 85.3,47.2 85.7,48.9 86.2,48.2 86.6,48.2 87.1,49.1 87.6,47.3 88.0,47.6 88.5,49.0 89.0,48.6 89.4,49.2 89.9,51.4 90.3,49.9 90.8,50.5 91.3,50.6 91.7,51.6 92.2,51.3 92.7,51.5 93.1,50.8 93.6,51.6 94.0,52.1 94.5,51.5 95.0,53.3 95.4,53.6 95.9,55.0 96.4,53.3 96.8,54.2 97.3,54.7 97.8,55.3 98.2,56.1 98.7,56.4 99.1,57.0 99.6,57.2 100.1,57.4 100.5,56.7 101.0,57.5 101.5,58.1 101.9,58.6 102.4,58.7 102.8,57.4 103.3,58.2 103.8,58.6 104.2,59.0 104.7,59.5 105.2,59.0 105.6,58.5 106.1,59.5 106.5,59.6 107.0,59.9 107.5,60.0 107.9,61.3 108.4,60.8 108.9,61.6 109.3,60.9 109.8,62.4 110.3,61.9 110.7,61.7 111.2,63.3 111.6,64.0 112.1,63.9 112.6,64.5 113.0,65.8 113.5,65.4 114.0,64.8 114.4,66.8 114.9,67.2 115.3,68.1 115.8,67.7 116.3,69.0 116.7,69.3 117.2,68.1 117.7,69.8 118.1,68.9 118.6,69.0 119.0,70.2 119.5,70.5 120.0,70.1 120.4,72.0 120.9,72.7 121.4,73.7 121.8,73.3 122.3,72.8 122.7,73.4 123.2,75.1 123.7,75.3 124.1,75.4 124.6,75.2 125.1,75.8 125.5,75.8 126.0,76.1 126.5,76.9 126.9,77.3 127.4,77.8 127.8,78.7 128.3,79.1 128.8,79.1 129.2,80.8 129.7,81.9 130.2,83.1 130.6,83.7 131.1,85.4 131.5,86.3 132.0,86.9 132.5,88.5 132.9,90.3 133.4,92.4 133.9,94.3 134.3,96.7 134.8,98.7 135.2,100.6 135.7,103.8 136.2,106.7 136.6,109.4 137.1,112.3 137.6,115.5 138.0,118.9 138.5,121.8 138.9,125.2 139.4,127.3 139.9,128.5 140.3,129.6 140.8,130.6 141.3,130.7 141.7,131.4 142.2,131.7 142.7,131.8 143.1,132.1 143.6,132.0 144.0,130.7 144.5,131.5 145.0,131.5 145.4,131.2 145.9,133.2 146.4,132.8 146.8,132.4 147.3,132.5 147.7,133.2 148.2,132.6 148.7,133.4 149.1,134.6 149.6,134.7 150.1,133.8 150.5,134.2 151.0,135.9 151.4,133.8 151.9,134.2 152.4,133.8 152.8,134.8 153.3,134.7 153.8,135.2 154.2,132.8 154.7,134.6 155.1,133.6 155.6,135.2 156.1,134.9 156.5,136.3 157.0,135.6 157.5,134.8 157.9,136.4 158.4,134.9 158.9,135.4 159.3,136.3 159.8,135.8 160.2,135.6 160.7,135.1 161.2,135.2 161.6,135.2 162.1,134.6 162.6,134.8 163.0,134.7 163.5,133.6 163.9,132.9 164.4,134.3 164.9,133.3 165.3,133.9 165.8,134.2 166.3,133.2 166.7,134.2 167.2,133.1 167.6,134.8 168.1,134.1 168.6,134.5 169.0,134.8 169.5,133.9 170.0,134.3 170.4,133.8 170.9,134.1 171.4,134.7 171.8,134.1 172.3,133.9 172.7,133.3 173.2,134.5 173.7,134.0 174.1,135.2 174.6,133.8 175.1,134.9 175.5,135.5 176.0,134.5 176.4,133.8 176.9,135.5 177.4,135.3 177.8,135.0 178.3,135.3 178.8,134.4 179.2,135.2 179.7,135.2 180.1,134.5 180.6,135.6 181.1,134.9 181.5,136.0 182.0,136.2 182.5,136.7 182.9,134.4 183.4,135.8 183.8,135.3 184.3,135.4 184.8,135.2 185.2,135.3 185.7,134.2 186.2,136.1 186.6,136.5 187.1,136.2 187.6,136.4 188.0,135.0 188.5,134.8 188.9,135.8 189.4,135.9 189.9,134.9 190.3,133.6 190.8,136.1 191.3,133.8 191.7,134.7 192.2,133.4 192.6,134.8 193.1,134.4 193.6,135.3 194.0,135.2 194.5,133.8 195.0,134.3 195.4,135.3 195.9,135.7 196.3,136.4 196.8,135.6 197.3,135.4 197.7,135.5 198.2,135.4 198.7,136.0 199.1,135.2 199.6,135.0 200.0,134.0 200.5,133.5 201.0,134.7 201.4,134.9 201.9,134.4" fill="none" stroke="#f20000" stroke-width="3.1" stroke-linejoin="round" stroke-linecap="round"/>
<polyline points="276.5,36.5 277.1,36.5 277.7,36.3 278.3,37.4 278.9,37.0 279.4,36.7 280.0,36.7 280.6,37.3 281.2,38.6 281.8,38.2 282.4,37.7 283.0,38.2 283.6,39.0 284.1,39.9 284.7,39.3 285.3,40.4 285.9,41.1 286.5,41.2 287.1,40.1 287.7,41.2 288.3,40.9 288.9,42.3 289.4,41.7 290.0,43.0 290.6,43.0 291.2,41.7 291.8,43.1 292.4,44.3 293.0,44.3 293.6,44.4 294.1,44.2 294.7,45.7 295.3,46.8 295.9,46.2 296.5,46.4 297.1,46.7 297.7,46.2 298.3,47.2 298.8,47.3 299.4,48.8 300.0,47.9 300.6,47.5 301.2,48.7 301.8,49.3 302.4,49.7 303.0,49.0 303.6,51.1 304.1,51.0 304.7,50.9 305.3,51.1 305.9,52.2 306.5,52.1 307.1,52.8 307.7,52.9 308.3,53.4 308.8,54.4 309.4,54.0 310.0,53.8 310.6,55.3 311.2,55.2 311.8,54.9 312.4,56.4 313.0,56.0 313.6,57.2 314.1,56.2 314.7,55.8 315.3,56.4 315.9,58.2 316.5,58.0 317.1,58.8 317.7,59.2 318.3,58.7 318.8,60.9 319.4,59.8 320.0,60.9 320.6,60.4 321.2,61.6 321.8,62.6 322.4,62.4 323.0,62.6 323.6,63.4 324.1,63.6 324.7,64.7 325.3,66.2 325.9,64.7 326.5,65.3 327.1,66.1 327.7,66.6 328.3,66.4 328.8,67.8 329.4,68.6 330.0,68.8 330.6,68.4 331.2,70.6 331.8,69.5 332.4,71.2 333.0,72.1 333.5,71.1 334.1,72.5 334.7,73.8 335.3,73.8 335.9,73.5 336.5,74.1 337.1,75.8 337.7,76.0 338.3,76.4 338.8,78.0 339.4,78.1 340.0,79.0 340.6,80.0 341.2,80.8 341.8,81.3 342.4,82.2 343.0,83.4 343.5,84.4 344.1,85.3 344.7,87.0 345.3,88.7 345.9,90.7 346.5,93.0 347.1,95.2 347.7,99.0 348.3,102.0 348.8,106.6 349.4,110.0 350.0,113.2 350.6,117.2 351.2,120.1 351.8,122.3 352.4,124.3 353.0,126.4 353.5,128.6 354.1,129.3 354.7,130.1 355.3,131.2 355.9,131.4 356.5,132.7 357.1,132.1 357.7,133.3 358.2,132.2 358.8,133.1 359.4,133.7 360.0,133.0 360.6,134.0 361.2,134.1 361.8,134.7 362.4,133.8 363.0,133.7 363.5,133.4 364.1,134.2 364.7,133.5 365.3,134.3 365.9,134.4 366.5,134.0 367.1,133.8 367.7,134.8 368.2,134.8 368.8,134.8 369.4,134.6 370.0,135.2 370.6,134.0 371.2,134.9 371.8,134.4 372.4,135.2 373.0,134.5 373.5,134.4 374.1,135.0 374.7,133.4 375.3,134.5 375.9,133.6 376.5,134.1 377.1,135.1 377.7,135.0 378.2,134.4 378.8,134.7 379.4,134.7 380.0,134.9 380.6,135.9 381.2,134.9 381.8,136.1 382.4,134.5 383.0,135.2 383.5,135.2 384.1,134.9 384.7,134.6 385.3,135.7 385.9,135.9 386.5,135.4 387.1,136.1 387.7,135.4 388.2,133.8 388.8,135.4 389.4,134.4 390.0,135.7 390.6,134.6 391.2,135.0 391.8,134.8 392.4,134.4 392.9,133.7 393.5,134.7 394.1,134.7 394.7,135.4 395.3,134.4 395.9,135.0 396.5,134.3 397.1,134.8 397.7,133.7 398.2,136.1 398.8,135.0 399.4,134.3 400.0,135.1 400.6,135.3 401.2,135.0 401.8,135.7 402.4,134.8 402.9,133.3 403.5,134.1 404.1,135.6 404.7,135.4 405.3,135.1" fill="none" stroke="#000" stroke-width="3.1" stroke-linejoin="round" stroke-linecap="round"/>
<polyline points="276.5,39.6 277.0,40.6 277.4,40.6 277.9,39.7 278.4,39.6 278.9,40.3 279.3,40.9 279.8,41.4 280.3,41.2 280.7,42.3 281.2,41.0 281.7,41.9 282.2,41.5 282.6,40.9 283.1,41.4 283.6,42.7 284.0,41.7 284.5,41.6 285.0,42.7 285.4,43.0 285.9,42.7 286.4,43.7 286.9,42.3 287.3,44.6 287.8,44.2 288.3,43.9 288.7,44.0 289.2,43.9 289.7,43.9 290.2,44.3 290.6,43.8 291.1,45.7 291.6,44.9 292.0,45.7 292.5,45.7 293.0,46.2 293.5,47.2 293.9,47.6 294.4,47.2 294.9,47.7 295.3,48.4 295.8,47.1 296.3,47.0 296.7,49.0 297.2,48.1 297.7,47.1 298.2,48.2 298.6,48.7 299.1,49.2 299.6,49.7 300.0,49.9 300.5,50.5 301.0,50.1 301.5,51.0 301.9,51.3 302.4,51.9 302.9,51.5 303.3,52.0 303.8,51.8 304.3,51.3 304.8,51.7 305.2,51.7 305.7,51.9 306.2,52.2 306.6,52.5 307.1,52.9 307.6,52.6 308.1,53.9 308.5,53.0 309.0,54.1 309.5,55.0 309.9,55.3 310.4,55.8 310.9,55.8 311.3,56.6 311.8,55.9 312.3,57.1 312.8,58.1 313.2,57.5 313.7,58.3 314.2,57.5 314.6,57.0 315.1,57.3 315.6,58.6 316.1,58.4 316.5,57.2 317.0,58.3 317.5,58.8 317.9,58.6 318.4,58.1 318.9,59.2 319.4,60.2 319.8,60.4 320.3,60.7 320.8,61.7 321.2,62.3 321.7,62.1 322.2,62.9 322.6,62.8 323.1,63.0 323.6,62.1 324.1,64.1 324.5,64.1 325.0,64.4 325.5,64.5 325.9,64.7 326.4,66.0 326.9,66.6 327.4,67.5 327.8,67.6 328.3,67.2 328.8,67.9 329.2,69.0 329.7,69.1 330.2,69.2 330.7,69.3 331.1,70.2 331.6,70.3 332.1,71.5 332.5,71.4 333.0,70.2 333.5,72.6 334.0,71.9 334.4,72.0 334.9,72.8 335.4,73.6 335.8,73.8 336.3,74.6 336.8,75.4 337.2,77.0 337.7,76.7 338.2,77.6 338.7,78.0 339.1,78.0 339.6,78.2 340.1,78.3 340.5,79.3 341.0,78.9 341.5,79.2 342.0,79.7 342.4,80.2 342.9,81.7 343.4,83.4 343.8,84.1 344.3,85.7 344.8,86.5 345.3,88.3 345.7,90.0 346.2,92.0 346.7,93.6 347.1,95.8 347.6,98.2 348.1,100.6 348.5,104.3 349.0,107.8 349.5,111.0 350.0,113.2 350.4,115.8 350.9,118.1 351.4,120.3 351.8,122.5 352.3,124.4 352.8,125.9 353.3,127.7 353.7,128.8 354.2,129.0 354.7,129.9 355.1,131.0 355.6,131.0 356.1,131.3 356.6,131.8 357.0,132.3 357.5,132.2 358.0,132.1 358.4,132.0 358.9,131.9 359.4,132.0 359.8,132.2 360.3,132.3 360.8,132.8 361.3,134.2 361.7,133.7 362.2,133.7 362.7,134.3 363.1,133.8 363.6,134.7 364.1,135.2 364.6,134.1 365.0,134.6 365.5,134.8 366.0,134.4 366.4,134.3 366.9,134.6 367.4,136.0 367.9,134.9 368.3,134.7 368.8,134.8 369.3,134.1 369.7,133.5 370.2,134.3 370.7,134.6 371.2,133.0 371.6,134.4 372.1,134.8 372.6,134.1 373.0,134.1 373.5,134.8 374.0,134.0 374.4,134.8 374.9,135.1 375.4,134.7 375.9,134.5 376.3,135.3 376.8,134.9 377.3,135.1 377.7,133.6 378.2,135.4 378.7,134.2 379.2,134.8 379.6,134.6 380.1,133.9 380.6,133.7 381.0,133.3 381.5,133.7 382.0,134.3 382.5,134.3 382.9,133.9 383.4,134.1 383.9,133.9 384.3,134.7 384.8,134.6 385.3,134.6 385.7,135.5 386.2,136.5 386.7,136.4 387.2,136.6 387.6,134.9 388.1,136.2 388.6,135.0 389.0,135.2 389.5,134.5 390.0,134.7 390.5,135.2 390.9,135.2 391.4,135.0 391.9,134.9 392.3,135.3 392.8,135.1 393.3,134.3 393.8,136.2 394.2,135.3 394.7,136.1 395.2,135.7 395.6,135.4 396.1,136.0 396.6,135.6 397.1,136.7 397.5,135.2 398.0,135.9 398.5,135.1 398.9,135.2 399.4,136.5 399.9,135.3 400.3,134.7 400.8,134.0 401.3,134.6 401.8,134.6 402.2,135.5 402.7,134.1 403.2,133.9 403.6,134.9 404.1,135.0 404.6,135.8 405.1,134.6 405.5,133.6 406.0,134.7 406.5,134.4 406.9,134.8 407.4,135.5 407.9,134.2 408.4,135.5 408.8,134.8 409.3,134.4 409.8,134.0 410.2,134.1 410.7,134.0 411.2,134.6 411.6,134.9 412.1,134.3 412.6,134.9 413.1,135.4 413.5,135.5 414.0,135.3 414.5,136.2 414.9,136.1 415.4,136.4 415.9,135.5 416.4,135.4 416.8,134.5 417.3,136.4" fill="none" stroke="#0000e6" stroke-width="3.1" stroke-linejoin="round" stroke-linecap="round"/>
<polyline points="516.1,36.2 516.7,35.9 517.3,35.4 517.9,36.4 518.5,35.4 519.0,35.8 519.6,36.7 520.2,36.6 520.8,37.9 521.4,38.4 522.0,38.6 522.6,38.5 523.2,38.9 523.8,39.3 524.4,39.4 524.9,40.7 525.5,39.9 526.1,41.1 526.7,41.1 527.3,41.3 527.9,41.9 528.5,42.3 529.1,42.5 529.7,42.4 530.3,42.5 530.8,42.8 531.4,43.8 532.0,44.1 532.6,44.5 533.2,44.2 533.8,45.7 534.4,44.6 535.0,45.7 535.6,46.2 536.2,46.0 536.7,46.1 537.3,46.7 537.9,46.8 538.5,47.5 539.1,47.4 539.7,47.7 540.3,48.7 540.9,48.4 541.5,49.2 542.1,49.6 542.6,50.4 543.2,50.5 543.8,50.4 544.4,51.6 545.0,51.1 545.6,51.6 546.2,52.0 546.8,53.4 547.4,52.8 548.0,52.8 548.5,53.8 549.1,53.8 549.7,55.2 550.3,54.2 550.9,55.1 551.5,54.8 552.1,56.3 552.7,55.6 553.3,56.4 553.9,56.4 554.4,57.5 555.0,57.8 555.6,57.0 556.2,58.7 556.8,59.0 557.4,59.2 558.0,59.9 558.6,59.4 559.2,59.6 559.8,61.0 560.3,61.8 560.9,61.0 561.5,61.5 562.1,62.0 562.7,62.3 563.3,63.6 563.9,63.8 564.5,64.8 565.1,65.2 565.7,64.7 566.2,65.8 566.8,65.0 567.4,66.4 568.0,67.1 568.6,67.0 569.2,67.1 569.8,68.2 570.4,69.5 571.0,69.4 571.6,69.5 572.1,70.8 572.7,71.5 573.3,71.3 573.9,72.2 574.5,73.3 575.1,73.5 575.7,74.2 576.3,74.4 576.9,75.2 577.5,75.5 578.0,76.4 578.6,78.0 579.2,77.9 579.8,78.4 580.4,79.2 581.0,79.7 581.6,81.3 582.2,82.3 582.8,82.5 583.4,84.1 583.9,85.5 584.5,86.4 585.1,88.4 585.7,90.4 586.3,92.7 586.9,95.1 587.5,98.1 588.1,101.0 588.7,105.1 589.3,109.9 589.8,112.6 590.4,116.0 591.0,119.1 591.6,121.7 592.2,123.9 592.8,126.3 593.4,127.8 594.0,129.3 594.6,130.0 595.2,130.9 595.7,131.3 596.3,132.0 596.9,132.0 597.5,132.9 598.1,132.3 598.7,133.2 599.3,133.2 599.9,132.4 600.5,133.2 601.1,133.4 601.6,132.7 602.2,133.6 602.8,134.3 603.4,133.7 604.0,134.6 604.6,133.7 605.2,133.7 605.8,134.6 606.4,134.7 607.0,134.4 607.5,134.5 608.1,135.0 608.7,134.4 609.3,135.5 609.9,134.8 610.5,134.8 611.1,134.8 611.7,134.5 612.3,135.2 612.9,134.4 613.4,134.8 614.0,135.0 614.6,135.3 615.2,135.2 615.8,134.5 616.4,135.1 617.0,134.7 617.6,134.3 618.2,134.3 618.8,134.0 619.3,134.8 619.9,135.2 620.5,134.3 621.1,134.6 621.7,134.3 622.3,134.7 622.9,134.2 623.5,134.4 624.1,134.4 624.7,134.5 625.2,134.6 625.8,134.7 626.4,134.7 627.0,134.3 627.6,135.0 628.2,134.0 628.8,134.8 629.4,134.4 630.0,134.8 630.6,134.9 631.1,133.9 631.7,134.9 632.3,135.3 632.9,135.1 633.5,134.9 634.1,133.9 634.7,134.7 635.3,134.4 635.9,135.2 636.5,134.7 637.0,134.5 637.6,134.1 638.2,135.1 638.8,134.6 639.4,134.7 640.0,135.3 640.6,134.8 641.2,135.0 641.8,135.8 642.4,134.6 642.9,134.6 643.5,135.0 644.1,135.4 644.7,134.2 645.3,134.8" fill="none" stroke="#000" stroke-width="3.1" stroke-linejoin="round" stroke-linecap="round"/>
<polyline points="515.1,53.3 515.6,53.2 516.1,54.1 516.5,53.6 517.0,54.1 517.5,54.1 517.9,54.2 518.4,54.2 518.8,53.8 519.3,54.3 519.8,54.5 520.2,54.6 520.7,54.4 521.2,55.0 521.6,54.9 522.1,54.8 522.5,55.1 523.0,55.0 523.5,55.2 523.9,54.2 524.4,54.6 524.9,55.1 525.3,55.4 525.8,54.6 526.2,55.6 526.7,55.9 527.2,55.9 527.6,56.1 528.1,55.8 528.6,56.6 529.0,55.8 529.5,57.2 530.0,56.7 530.4,57.6 530.9,56.6 531.3,57.7 531.8,57.7 532.3,57.4 532.7,57.5 533.2,58.6 533.7,58.5 534.1,59.1 534.6,58.6 535.0,58.8 535.5,59.1 536.0,59.4 536.4,59.5 536.9,59.8 537.4,59.4 537.8,59.1 538.3,60.8 538.7,60.1 539.2,60.4 539.7,60.2 540.1,61.0 540.6,60.8 541.1,61.3 541.5,60.7 542.0,61.1 542.4,61.4 542.9,61.3 543.4,61.8 543.8,62.5 544.3,61.7 544.8,62.0 545.2,62.3 545.7,62.0 546.1,62.1 546.6,63.2 547.1,63.2 547.5,62.4 548.0,62.6 548.5,63.7 548.9,64.0 549.4,63.9 549.9,64.0 550.3,64.6 550.8,64.1 551.2,64.8 551.7,64.9 552.2,64.2 552.6,65.1 553.1,65.0 553.6,65.0 554.0,65.1 554.5,65.8 554.9,65.9 555.4,66.5 555.9,65.7 556.3,66.4 556.8,67.3 557.3,67.1 557.7,67.0 558.2,67.3 558.6,67.0 559.1,67.4 559.6,68.5 560.0,68.5 560.5,69.3 561.0,68.8 561.4,69.1 561.9,68.3 562.3,69.6 562.8,70.8 563.3,70.4 563.7,70.3 564.2,71.1 564.7,71.2 565.1,71.2 565.6,71.1 566.1,71.6 566.5,72.1 567.0,71.6 567.4,72.4 567.9,72.6 568.4,73.2 568.8,73.2 569.3,72.8 569.8,74.0 570.2,73.6 570.7,73.5 571.1,74.2 571.6,74.2 572.1,75.0 572.5,74.2 573.0,74.5 573.5,75.1 573.9,76.2 574.4,76.1 574.8,75.5 575.3,75.4 575.8,76.2 576.2,76.3 576.7,77.6 577.2,77.8 577.6,78.2 578.1,78.5 578.5,79.8 579.0,79.2 579.5,79.5 579.9,81.0 580.4,81.6 580.9,81.3 581.3,82.2 581.8,83.5 582.3,82.9 582.7,83.9 583.2,84.7 583.6,84.1 584.1,85.5 584.6,86.8 585.0,87.9 585.5,89.7 586.0,91.3 586.4,92.8 586.9,94.9 587.3,97.2 587.8,99.3 588.3,102.1 588.7,105.5 589.2,109.0 589.7,111.6 590.1,113.9 590.6,116.6 591.0,118.7 591.5,121.6 592.0,123.1 592.4,125.0 592.9,126.4 593.4,127.9 593.8,128.7 594.3,129.8 594.7,130.3 595.2,131.1 595.7,131.6 596.1,132.0 596.6,132.1 597.1,133.2 597.5,132.6 598.0,132.7 598.4,133.1 598.9,133.4 599.4,133.7 599.8,132.4 600.3,133.9 600.8,132.8 601.2,133.3 601.7,133.8 602.2,134.3 602.6,133.4 603.1,133.3 603.5,134.5 604.0,134.2 604.5,133.7 604.9,134.1 605.4,133.4 605.9,134.6 606.3,134.2 606.8,135.0 607.2,133.6 607.7,134.9 608.2,135.6 608.6,134.7 609.1,134.7 609.6,133.8 610.0,134.8 610.5,134.7 610.9,134.4 611.4,134.0 611.9,134.7 612.3,134.2 612.8,134.5 613.3,134.8 613.7,134.7 614.2,134.7 614.6,135.1 615.1,134.2 615.6,135.3 616.0,134.2 616.5,134.3" fill="none" stroke="#8c8c8c" stroke-width="3.1" stroke-linejoin="round" stroke-linecap="round"/>
<polyline points="64.1,169.4 64.6,169.7 65.2,169.5 65.8,169.3 66.4,169.5 67.0,170.0 67.6,170.1 68.2,171.1 68.7,171.1 69.3,172.3 69.9,171.6 70.5,172.3 71.1,172.9 71.7,172.6 72.3,173.1 72.8,174.9 73.4,174.0 74.0,175.0 74.6,174.2 75.2,173.9 75.8,175.5 76.4,175.6 76.9,176.1 77.5,176.1 78.1,176.3 78.7,176.4 79.3,177.7 79.9,177.0 80.5,178.4 81.0,178.2 81.6,178.2 82.2,178.7 82.8,179.8 83.4,180.0 84.0,180.3 84.6,180.4 85.1,180.3 85.7,181.7 86.3,181.2 86.9,181.5 87.5,181.9 88.1,182.3 88.7,182.2 89.2,183.0 89.8,183.1 90.4,183.6 91.0,183.4 91.6,185.4 92.2,184.3 92.8,185.3 93.3,185.7 93.9,186.3 94.5,187.1 95.1,186.8 95.7,187.2 96.3,187.1 96.9,188.3 97.4,187.4 98.0,188.2 98.6,188.8 99.2,189.3 99.8,189.7 100.4,190.3 101.0,190.4 101.5,190.6 102.1,191.0 102.7,192.0 103.3,191.9 103.9,192.5 104.5,192.5 105.0,192.2 105.6,193.1 106.2,193.9 106.8,194.8 107.4,195.1 108.0,195.7 108.6,195.0 109.1,196.1 109.7,196.2 110.3,197.0 110.9,197.1 111.5,197.0 112.1,198.3 112.7,198.6 113.2,199.3 113.8,199.0 114.4,200.3 115.0,200.7 115.6,201.3 116.2,201.9 116.8,201.6 117.3,201.3 117.9,203.3 118.5,203.0 119.1,203.9 119.7,205.0 120.3,205.2 120.9,205.7 121.4,206.4 122.0,205.9 122.6,208.0 123.2,207.7 123.8,208.4 124.4,209.5 125.0,209.9 125.5,210.3 126.1,211.3 126.7,211.8 127.3,212.4 127.9,214.3 128.5,213.6 129.1,214.2 129.6,215.7 130.2,216.9 130.8,218.5 131.4,219.7 132.0,221.3 132.6,223.4 133.2,225.2 133.7,227.6 134.3,230.5 134.9,233.8 135.5,237.4 136.1,241.7 136.7,245.3 137.3,248.4 137.8,251.1 138.4,254.7 139.0,256.8 139.6,258.8 140.2,260.6 140.8,261.9 141.4,263.1 141.9,264.1 142.5,264.8 143.1,265.0 143.7,266.0 144.3,265.3 144.9,265.5 145.5,266.2 146.0,266.1 146.6,266.2 147.2,266.0 147.8,267.3 148.4,266.5 149.0,267.3 149.6,267.6 150.1,267.4 150.7,267.6 151.3,268.0 151.9,268.3 152.5,268.1 153.1,267.1 153.7,267.0 154.2,267.6 154.8,267.5 155.4,268.3 156.0,268.1 156.6,267.9 157.2,268.5 157.8,268.5 158.3,268.0 158.9,268.2 159.5,268.5 160.1,267.9 160.7,268.2 161.3,267.7 161.9,268.1 162.4,268.2 163.0,268.0 163.6,268.2 164.2,268.4 164.8,268.3 165.4,267.8 165.9,267.8 166.5,267.6 167.1,268.8 167.7,268.3 168.3,268.3 168.9,268.1 169.5,268.3 170.0,268.4 170.6,267.8 171.2,268.1 171.8,268.6 172.4,267.6 173.0,267.7 173.6,268.4 174.1,267.8 174.7,268.5 175.3,267.7 175.9,268.3 176.5,268.5 177.1,268.3 177.7,268.5 178.2,268.1 178.8,268.1 179.4,268.2 180.0,268.4 180.6,269.8 181.2,268.2 181.8,269.0 182.3,268.1 182.9,267.7 183.5,268.1 184.1,268.4 184.7,268.3 185.3,268.3 185.9,268.5 186.4,268.5 187.0,268.6 187.6,267.7 188.2,268.2 188.8,267.8 189.4,268.4 190.0,268.2 190.5,268.3 191.1,268.1 191.7,267.9 192.3,268.2" fill="none" stroke="#000" stroke-width="3.1" stroke-linejoin="round" stroke-linecap="round"/>
<polyline points="64.1,173.0 64.6,173.1 65.1,172.0 65.6,173.0 66.0,173.2 66.5,172.6 67.0,173.1 67.5,173.8 68.0,174.5 68.5,173.4 69.0,174.7 69.5,174.8 70.0,175.5 70.5,176.3 71.0,176.5 71.5,176.0 72.0,176.3 72.5,176.8 73.0,177.5 73.5,177.9 74.0,177.7 74.5,178.5 75.0,177.7 75.5,177.9 76.0,177.4 76.5,178.6 77.0,179.7 77.5,180.1 78.0,181.6 78.5,180.5 79.0,180.5 79.5,180.2 80.0,180.6 80.5,180.8 81.0,181.3 81.5,181.4 82.0,181.3 82.5,182.9 83.0,183.0 83.4,183.9 83.9,182.9 84.4,183.5 84.9,184.1 85.4,185.3 85.9,185.0 86.4,185.4 86.9,185.4 87.4,185.7 87.9,185.5 88.4,186.0 88.9,185.6 89.4,186.0 89.9,186.5 90.4,186.7 90.9,187.1 91.4,186.8 91.9,187.7 92.4,187.8 92.9,188.5 93.4,189.4 93.9,188.6 94.4,189.8 94.9,189.3 95.4,189.7 95.9,191.0 96.4,191.0 96.9,191.0 97.4,191.4 97.9,191.8 98.4,191.1 98.9,191.9 99.4,191.8 99.9,192.5 100.4,192.5 100.8,193.4 101.3,193.4 101.8,193.5 102.3,194.1 102.8,194.7 103.3,195.4 103.8,195.1 104.3,195.4 104.8,195.9 105.3,196.5 105.8,196.2 106.3,195.6 106.8,197.3 107.3,197.4 107.8,197.8 108.3,199.6 108.8,198.7 109.3,199.6 109.8,198.9 110.3,200.0 110.8,200.6 111.3,200.6 111.8,200.6 112.3,201.2 112.8,201.3 113.3,202.2 113.8,201.9 114.3,201.7 114.8,201.5 115.3,202.5 115.8,203.1 116.3,203.1 116.8,203.6 117.3,203.8 117.7,204.5 118.2,205.4 118.7,205.7 119.2,206.2 119.7,206.6 120.2,207.1 120.7,208.0 121.2,209.1 121.7,208.9 122.2,209.9 122.7,209.3 123.2,209.8 123.7,211.1 124.2,210.4 124.7,210.7 125.2,211.4 125.7,211.1 126.2,211.4 126.7,213.2 127.2,212.5 127.7,213.2 128.2,213.7 128.7,214.1 129.2,215.5 129.7,216.2 130.2,217.3 130.7,218.1 131.2,219.2 131.7,220.6 132.2,222.0 132.7,223.4 133.2,225.3 133.7,227.0 134.2,229.9 134.7,232.2 135.1,234.8 135.6,238.3 136.1,242.1 136.6,244.7 137.1,247.6 137.6,250.2 138.1,252.8 138.6,255.1 139.1,257.1 139.6,258.6 140.1,260.5 140.6,262.2 141.1,263.0 141.6,263.6 142.1,264.3 142.6,264.9 143.1,265.4 143.6,265.3 144.1,266.1 144.6,265.7 145.1,266.5 145.6,267.8 146.1,266.4 146.6,267.2 147.1,268.1 147.6,267.9 148.1,268.5 148.6,267.3 149.1,268.2 149.6,269.3 150.1,268.4 150.6,268.8 151.1,267.7 151.6,269.1 152.1,269.6 152.5,268.5 153.0,268.7 153.5,268.8 154.0,269.7 154.5,268.6 155.0,268.1 155.5,270.0 156.0,268.6 156.5,269.5 157.0,268.2 157.5,269.1 158.0,269.4 158.5,268.8 159.0,269.1 159.5,269.5 160.0,268.8 160.5,269.4 161.0,269.9 161.5,268.0 162.0,269.1 162.5,269.2 163.0,268.7 163.5,269.6 164.0,269.5 164.5,269.1 165.0,269.0 165.5,268.7 166.0,268.2 166.5,269.0 167.0,268.5 167.5,268.4 168.0,269.2 168.5,268.6 169.0,269.1 169.5,268.1 169.9,268.4 170.4,268.6 170.9,269.2 171.4,268.4 171.9,268.8 172.4,268.1 172.9,268.5 173.4,269.0 173.9,268.2 174.4,268.4 174.9,269.2 175.4,268.5 175.9,269.3 176.4,269.4 176.9,269.2 177.4,269.6 177.9,269.4 178.4,269.2 178.9,268.3 179.4,268.2 179.9,268.9 180.4,267.9 180.9,268.6 181.4,268.4 181.9,268.1 182.4,268.5 182.9,267.5 183.4,268.6 183.9,269.4 184.4,268.2 184.9,269.1 185.4,269.2 185.9,270.5 186.4,268.7 186.8,268.9 187.3,268.9 187.8,268.9 188.3,268.5 188.8,269.4 189.3,268.8 189.8,269.6 190.3,269.3 190.8,268.6 191.3,268.8 191.8,269.5 192.3,268.6 192.8,268.8 193.3,269.2 193.8,268.6 194.3,269.0 194.8,269.7 195.3,269.5 195.8,268.2 196.3,269.8 196.8,269.1 197.3,268.9 197.8,268.9 198.3,269.9 198.8,269.5 199.3,269.2 199.8,269.0 200.3,269.6 200.8,269.9 201.3,268.8 201.8,268.7 202.3,269.0 202.8,269.5 203.3,268.9 203.8,269.0 204.2,268.6 204.7,269.5 205.2,268.8 205.7,268.9 206.2,269.3 206.7,268.6 207.2,268.6 207.7,268.7 208.2,268.3 208.7,269.2 209.2,268.5 209.7,268.3 210.2,268.4 210.7,268.0 211.2,269.1 211.7,269.4 212.2,268.6 212.7,268.6" fill="none" stroke="#138a13" stroke-width="3.1" stroke-linejoin="round" stroke-linecap="round"/>
<polyline points="276.5,168.9 277.1,169.8 277.7,169.6 278.3,169.7 278.9,169.2 279.4,169.9 280.0,170.2 280.6,171.3 281.2,171.0 281.8,171.9 282.4,171.5 283.0,171.8 283.6,172.4 284.1,171.9 284.7,172.9 285.3,173.2 285.9,173.7 286.5,174.1 287.1,174.0 287.7,174.2 288.3,175.6 288.9,174.9 289.4,175.5 290.0,175.6 290.6,176.1 291.2,177.2 291.8,177.5 292.4,176.6 293.0,177.6 293.6,178.6 294.1,178.2 294.7,178.9 295.3,179.9 295.9,180.4 296.5,180.5 297.1,180.0 297.7,180.5 298.3,180.9 298.8,181.1 299.4,181.3 300.0,182.8 300.6,182.3 301.2,182.9 301.8,183.4 302.4,183.5 303.0,183.6 303.6,184.1 304.1,184.9 304.7,184.8 305.3,184.1 305.9,185.8 306.5,186.4 307.1,185.9 307.7,186.1 308.3,186.5 308.8,187.5 309.4,187.0 310.0,188.1 310.6,188.6 311.2,188.7 311.8,188.8 312.4,188.8 313.0,189.2 313.6,189.9 314.1,189.9 314.7,190.7 315.3,190.7 315.9,192.1 316.5,192.6 317.1,192.0 317.7,193.3 318.3,193.2 318.8,193.5 319.4,194.1 320.0,194.5 320.6,194.1 321.2,196.2 321.8,195.1 322.4,195.0 323.0,196.4 323.6,196.9 324.1,197.0 324.7,197.0 325.3,198.7 325.9,198.6 326.5,199.2 327.1,199.3 327.7,199.9 328.3,200.2 328.8,201.1 329.4,201.5 330.0,202.3 330.6,202.9 331.2,203.2 331.8,203.7 332.4,204.7 333.0,204.1 333.5,205.4 334.1,206.4 334.7,205.9 335.3,207.3 335.9,207.3 336.5,208.2 337.1,208.8 337.7,209.5 338.3,210.5 338.8,211.0 339.4,210.8 340.0,213.3 340.6,213.0 341.2,213.7 341.8,215.2 342.4,216.2 343.0,216.3 343.5,217.7 344.1,218.7 344.7,220.4 345.3,222.3 345.9,224.3 346.5,226.4 347.1,229.0 347.7,232.1 348.3,235.5 348.8,239.8 349.4,243.7 350.0,246.9 350.6,250.3 351.2,253.3 351.8,255.8 352.4,258.0 353.0,260.0 353.5,262.1 354.1,262.9 354.7,263.6 355.3,264.4 355.9,265.0 356.5,265.1 357.1,265.9 357.7,264.7 358.2,265.8 358.8,266.1 359.4,266.7 360.0,267.8 360.6,266.8 361.2,266.9 361.8,266.3 362.4,267.8 363.0,266.6 363.5,267.6 364.1,267.2 364.7,268.7 365.3,267.6 365.9,267.9 366.5,267.5 367.1,267.8 367.7,268.4 368.2,267.6 368.8,267.8 369.4,267.8 370.0,267.6 370.6,267.6 371.2,268.1 371.8,268.7 372.4,268.7 373.0,267.5 373.5,267.8 374.1,268.0 374.7,268.3 375.3,268.1 375.9,268.1 376.5,268.2 377.1,268.4 377.7,267.2 378.2,268.0 378.8,268.4 379.4,268.7 380.0,268.4 380.6,267.8 381.2,267.8 381.8,268.2 382.4,268.1 383.0,268.3 383.5,268.6 384.1,267.6 384.7,268.0 385.3,267.1 385.9,268.5 386.5,268.2 387.1,267.8 387.7,268.3 388.2,268.8 388.8,268.6 389.4,268.1 390.0,268.0 390.6,268.2 391.2,267.8 391.8,267.8 392.4,268.1 392.9,268.2 393.5,268.3 394.1,268.0 394.7,267.8 395.3,268.2 395.9,268.0 396.5,268.4 397.1,268.8 397.7,268.6 398.2,267.9 398.8,268.0 399.4,267.6 400.0,268.2 400.6,267.9 401.2,267.7 401.8,267.8 402.4,268.5 402.9,268.3 403.5,268.2 404.1,268.7 404.7,268.1 405.3,267.8" fill="none" stroke="#000" stroke-width="3.1" stroke-linejoin="round" stroke-linecap="round"/>
<polyline points="276.5,171.0 277.1,169.7 277.7,170.9 278.3,170.9 278.9,171.0 279.5,171.6 280.1,171.3 280.7,171.9 281.3,171.3 281.9,172.3 282.5,172.6 283.1,173.4 283.7,174.4 284.3,174.0 284.9,174.7 285.5,174.1 286.1,174.9 286.7,174.3 287.3,175.1 288.0,175.4 288.6,176.0 289.2,176.4 289.8,176.4 290.4,176.6 291.0,177.8 291.6,177.4 292.2,176.6 292.8,178.4 293.4,178.8 294.0,179.4 294.6,180.1 295.2,179.1 295.8,180.0 296.4,180.2 297.0,179.7 297.6,179.7 298.2,181.8 298.8,181.1 299.4,181.7 300.0,182.1 300.6,182.4 301.2,183.0 301.8,182.5 302.4,183.3 303.0,183.8 303.6,183.7 304.2,184.2 304.8,184.7 305.4,185.1 306.0,184.7 306.6,185.7 307.2,186.4 307.8,187.1 308.4,187.2 309.0,187.9 309.7,187.6 310.3,187.8 310.9,189.4 311.5,188.6 312.1,188.6 312.7,189.2 313.3,190.2 313.9,189.4 314.5,190.9 315.1,191.6 315.7,191.9 316.3,191.8 316.9,191.6 317.5,191.9 318.1,192.9 318.7,194.0 319.3,194.1 319.9,194.7 320.5,194.7 321.1,196.0 321.7,195.4 322.3,195.6 322.9,196.5 323.5,196.6 324.1,197.8 324.7,198.5 325.3,198.6 325.9,198.1 326.5,198.6 327.1,199.8 327.7,199.4 328.3,200.7 328.9,200.2 329.5,201.3 330.1,202.4 330.7,202.3 331.3,203.7 332.0,204.3 332.6,205.2 333.2,204.8 333.8,205.5 334.4,206.1 335.0,206.8 335.6,206.4 336.2,208.1 336.8,208.9 337.4,208.6 338.0,209.2 338.6,210.5 339.2,212.3 339.8,212.4 340.4,212.5 341.0,213.5 341.6,213.6 342.2,216.1 342.8,216.0 343.4,217.6 344.0,218.4 344.6,220.2 345.2,221.8 345.8,224.3 346.4,226.6 347.0,229.1 347.6,232.1 348.2,235.6 348.8,239.5 349.4,243.6 350.0,247.1 350.6,250.5 351.2,253.5 351.8,256.2 352.4,257.9 353.0,260.2 353.7,262.0 354.3,263.1 354.9,264.3 355.5,264.8 356.1,265.4 356.7,265.4 357.3,265.9 357.9,266.5 358.5,266.5 359.1,265.6 359.7,267.1 360.3,267.2 360.9,267.0 361.5,267.4 362.1,267.4 362.7,267.0 363.3,266.5 363.9,268.5 364.5,267.6 365.1,267.6 365.7,267.8 366.3,267.9 366.9,268.0 367.5,267.4 368.1,268.3 368.7,268.1 369.3,268.1 369.9,268.0 370.5,268.2 371.1,267.5 371.7,268.1 372.3,268.0 372.9,268.1 373.5,268.6 374.1,268.5 374.7,268.6 375.3,268.0 376.0,268.5 376.6,268.7 377.2,268.0 377.8,267.8 378.4,269.0 379.0,267.2 379.6,268.1 380.2,268.2 380.8,267.6 381.4,268.1 382.0,268.5 382.6,267.0 383.2,268.7 383.8,268.2 384.4,267.7 385.0,268.7 385.6,268.2 386.2,267.9 386.8,266.9 387.4,268.6 388.0,268.2 388.6,267.8 389.2,268.1 389.8,268.8 390.4,268.0 391.0,268.1 391.6,267.9 392.2,267.6 392.8,267.7 393.4,268.0 394.0,268.0 394.6,268.8 395.2,268.3 395.8,268.1 396.4,268.4 397.0,268.2 397.7,268.7 398.3,267.4 398.9,267.1 399.5,268.4 400.1,268.0 400.7,268.4 401.3,267.6 401.9,268.0 402.5,268.2 403.1,268.4 403.7,268.2 404.3,268.8 404.9,267.9 405.5,268.6 406.1,268.0 406.7,268.2 407.3,267.7 407.9,268.3 408.5,267.7" fill="none" stroke="#138a13" stroke-width="3.1" stroke-linejoin="round" stroke-linecap="round"/>
<polyline points="516.5,169.7 517.1,169.1 517.7,169.5 518.3,169.3 518.9,169.5 519.4,169.4 520.0,171.0 520.6,170.4 521.2,171.6 521.8,170.8 522.4,172.5 523.0,172.4 523.6,173.1 524.1,172.0 524.7,173.6 525.3,173.4 525.9,174.0 526.5,174.8 527.1,174.5 527.7,174.4 528.3,175.1 528.9,175.0 529.4,175.8 530.0,176.0 530.6,176.5 531.2,176.5 531.8,176.2 532.4,177.2 533.0,177.6 533.6,178.3 534.1,178.7 534.7,178.1 535.3,179.6 535.9,179.8 536.5,179.8 537.1,180.3 537.7,179.6 538.3,181.8 538.8,181.0 539.4,181.2 540.0,182.3 540.6,182.5 541.2,182.4 541.8,182.2 542.4,183.6 543.0,184.3 543.6,183.5 544.1,183.6 544.7,184.8 545.3,185.9 545.9,184.7 546.5,185.7 547.1,185.5 547.7,186.4 548.3,186.9 548.8,187.2 549.4,186.8 550.0,187.1 550.6,189.0 551.2,188.8 551.8,188.0 552.4,189.3 553.0,190.1 553.6,189.9 554.1,190.3 554.7,190.7 555.3,191.3 555.9,191.6 556.5,192.1 557.1,192.2 557.7,193.0 558.3,193.2 558.8,193.6 559.4,193.3 560.0,194.1 560.6,194.7 561.2,194.9 561.8,195.4 562.4,195.5 563.0,196.2 563.6,196.1 564.1,196.7 564.7,197.8 565.3,198.4 565.9,198.3 566.5,198.9 567.1,199.6 567.7,200.6 568.3,201.2 568.8,200.8 569.4,201.2 570.0,201.7 570.6,203.1 571.2,202.7 571.8,203.9 572.4,204.1 573.0,204.6 573.5,205.6 574.1,206.1 574.7,207.3 575.3,207.3 575.9,208.3 576.5,208.0 577.1,208.9 577.7,209.2 578.3,210.2 578.8,211.3 579.4,211.5 580.0,212.5 580.6,212.8 581.2,213.7 581.8,215.1 582.4,215.6 583.0,216.6 583.5,217.7 584.1,218.9 584.7,220.2 585.3,222.4 585.9,224.5 586.5,226.9 587.1,229.2 587.7,232.3 588.3,235.9 588.8,239.8 589.4,243.8 590.0,247.1 590.6,250.2 591.2,253.4 591.8,255.7 592.4,258.2 593.0,260.0 593.5,261.6 594.1,262.8 594.7,263.6 595.3,264.6 595.9,265.2 596.5,265.5 597.1,265.7 597.7,266.5 598.2,266.0 598.8,265.8 599.4,266.0 600.0,267.3 600.6,267.2 601.2,267.6 601.8,266.6 602.4,267.0 603.0,267.1 603.5,267.8 604.1,268.0 604.7,267.6 605.3,267.6 605.9,268.1 606.5,267.8 607.1,267.6 607.7,267.9 608.2,268.5 608.8,269.0 609.4,268.2 610.0,268.0 610.6,268.2 611.2,268.3 611.8,268.4 612.4,267.8 613.0,268.1 613.5,268.0 614.1,268.5 614.7,268.4 615.3,268.0 615.9,268.5 616.5,268.6 617.1,268.2 617.7,267.6 618.2,268.0 618.8,267.5 619.4,268.2 620.0,268.3 620.6,268.7 621.2,268.4 621.8,267.5 622.4,268.0 623.0,267.8 623.5,267.8 624.1,268.1 624.7,268.2 625.3,268.1 625.9,267.9 626.5,268.0 627.1,268.0 627.7,268.1 628.2,268.5 628.8,268.3 629.4,268.6 630.0,267.7 630.6,269.1 631.2,268.3 631.8,267.2 632.4,268.3 632.9,268.7 633.5,268.2 634.1,267.7 634.7,268.3 635.3,267.9 635.9,268.2 636.5,268.4 637.1,266.9 637.7,268.2 638.2,268.5 638.8,268.4 639.4,268.1 640.0,268.1 640.6,267.9 641.2,268.2 641.8,268.9 642.4,268.0 642.9,268.4 643.5,268.4 644.1,268.9 644.7,268.5 645.3,268.6" fill="none" stroke="#000" stroke-width="3.1" stroke-linejoin="round" stroke-linecap="round"/>
<polyline points="514.1,183.5 514.5,184.2 514.9,183.6 515.3,183.7 515.7,184.4 516.1,184.3 516.5,184.5 516.9,183.8 517.3,185.4 517.7,184.6 518.1,185.2 518.5,184.8 518.9,184.4 519.3,185.1 519.7,184.9 520.1,185.4 520.5,184.4 520.9,184.9 521.3,184.9 521.7,186.1 522.1,186.1 522.5,185.3 522.9,185.9 523.3,186.1 523.7,185.9 524.1,186.7 524.5,186.0 524.9,186.4 525.3,186.4 525.7,187.0 526.1,186.6 526.5,187.3 526.9,186.7 527.3,186.8 527.7,187.0 528.1,187.3 528.5,187.4 528.9,189.0 529.3,187.6 529.7,188.2 530.1,188.2 530.5,188.5 530.9,189.1 531.3,188.9 531.7,188.5 532.1,188.3 532.5,189.3 532.9,189.6 533.3,188.7 533.7,189.9 534.1,188.8 534.5,189.8 534.9,190.3 535.3,189.6 535.7,189.5 536.1,190.9 536.5,189.8 536.9,190.7 537.3,190.1 537.7,191.1 538.1,191.7 538.5,191.0 538.9,190.9 539.3,190.6 539.7,190.9 540.1,191.5 540.5,192.0 540.9,192.3 541.3,192.4 541.7,192.7 542.1,192.7 542.5,193.8 542.9,192.8 543.3,193.0 543.7,192.1 544.1,193.0 544.5,193.7 544.9,193.4 545.3,194.3 545.7,194.2 546.1,194.9 546.5,193.7 546.9,194.2 547.3,195.1 547.7,194.8 548.1,194.5 548.5,194.8 548.9,195.0 549.3,195.7 549.7,195.8 550.1,195.6 550.5,195.4 550.9,196.3 551.3,196.6 551.7,195.8 552.1,196.8 552.5,196.2 552.9,196.7 553.3,196.6 553.7,196.5 554.1,197.1 554.5,197.3 554.9,198.2 555.3,198.3 555.7,197.9 556.1,197.8 556.5,198.0 556.9,197.8 557.3,198.9 557.7,199.1 558.1,199.0 558.5,199.6 558.9,199.8 559.3,200.5 559.7,199.8 560.1,200.9 560.5,200.4 560.9,201.4 561.3,200.6 561.7,201.7 562.1,201.1 562.5,202.3 562.9,202.0 563.3,201.5 563.7,202.6 564.1,202.4 564.5,202.8 564.9,203.8 565.3,202.9 565.7,203.1 566.1,203.9 566.5,203.4 566.9,204.3 567.3,204.6 567.7,204.4 568.1,204.9 568.5,203.9 568.9,205.7 569.3,205.0 569.7,205.1 570.1,206.6 570.5,206.7 570.9,206.0 571.3,206.6 571.7,206.5 572.1,206.4 572.5,207.3 572.9,207.8 573.3,208.7 573.7,207.7 574.1,208.4 574.5,208.1 574.9,208.4 575.3,209.3 575.7,208.2 576.1,208.9 576.5,209.5 576.9,210.8 577.3,210.9 577.7,211.4 578.1,211.8 578.5,212.6 578.9,212.4 579.3,212.9 579.7,213.3 580.1,214.1 580.5,213.8 580.9,214.7 581.3,216.4 581.7,216.1 582.1,216.4 582.5,216.6 582.9,217.7 583.3,217.3 583.7,218.1 584.1,218.8 584.5,220.0 584.9,221.0 585.3,222.4 585.7,223.6 586.1,225.2 586.5,226.8 586.9,228.2 587.3,230.5 587.7,232.3 588.1,234.4 588.5,237.2 588.9,240.1 589.3,243.3 589.7,245.4 590.1,247.7 590.5,249.3 590.9,251.6 591.3,253.6 591.7,255.6 592.1,257.3 592.5,258.1 592.9,259.8 593.3,261.2 593.7,262.2 594.1,262.7 594.5,263.3 594.9,264.2 595.3,264.4 595.7,264.9 596.1,265.3 596.5,264.8 596.9,265.4 597.3,266.1 597.7,266.8 598.1,266.1 598.5,266.0 598.9,266.4 599.3,267.0 599.7,266.9 600.1,267.2 600.5,266.7 600.9,266.5 601.3,266.5 601.7,267.4" fill="none" stroke="#8c8c8c" stroke-width="3.1" stroke-linejoin="round" stroke-linecap="round"/>
<polyline points="63.5,302.5 64.1,302.5 64.7,303.0 65.3,302.9 65.8,302.0 66.4,303.1 67.0,303.2 67.6,304.1 68.2,304.3 68.8,305.4 69.4,305.0 70.0,304.9 70.5,304.8 71.1,305.6 71.7,306.2 72.3,306.8 72.9,307.4 73.5,307.5 74.1,307.5 74.6,308.4 75.2,308.0 75.8,309.1 76.4,309.8 77.0,309.8 77.6,310.4 78.2,310.6 78.8,309.9 79.3,310.8 79.9,310.9 80.5,310.9 81.1,311.2 81.7,312.3 82.3,311.9 82.9,312.6 83.4,313.1 84.0,313.3 84.6,314.4 85.2,314.5 85.8,314.6 86.4,314.6 87.0,315.4 87.6,315.6 88.1,315.5 88.7,315.6 89.3,316.2 89.9,316.4 90.5,317.4 91.1,317.7 91.7,317.8 92.2,318.4 92.8,318.8 93.4,318.3 94.0,319.4 94.6,320.1 95.2,319.8 95.8,319.6 96.4,320.7 96.9,320.5 97.5,321.6 98.1,321.9 98.7,322.4 99.3,322.5 99.9,322.0 100.5,323.7 101.0,322.9 101.6,324.4 102.2,324.5 102.8,324.4 103.4,324.9 104.0,325.5 104.6,326.7 105.2,326.2 105.7,327.2 106.3,326.1 106.9,327.6 107.5,327.9 108.1,328.8 108.7,329.0 109.3,329.8 109.8,329.3 110.4,330.2 111.0,330.3 111.6,331.3 112.2,331.7 112.8,331.4 113.4,332.8 114.0,333.6 114.5,333.1 115.1,334.2 115.7,334.4 116.3,334.3 116.9,335.6 117.5,335.4 118.1,336.6 118.6,336.2 119.2,336.8 119.8,338.2 120.4,338.6 121.0,339.4 121.6,339.5 122.2,339.6 122.8,341.3 123.3,341.0 123.9,342.6 124.5,343.1 125.1,344.2 125.7,343.2 126.3,344.8 126.9,345.4 127.4,346.5 128.0,346.5 128.6,348.7 129.2,348.6 129.8,348.7 130.4,350.7 131.0,351.9 131.6,353.2 132.1,355.2 132.7,357.1 133.3,359.0 133.9,361.5 134.5,364.5 135.1,367.6 135.7,371.8 136.2,376.1 136.8,379.0 137.4,382.3 138.0,385.5 138.6,388.8 139.2,390.3 139.8,392.4 140.4,394.7 140.9,396.1 141.5,396.8 142.1,397.3 142.7,398.2 143.3,398.6 143.9,398.9 144.5,398.7 145.0,399.4 145.6,399.5 146.2,399.9 146.8,399.1 147.4,399.5 148.0,400.1 148.6,400.8 149.2,400.7 149.7,400.3 150.3,400.9 150.9,400.3 151.5,400.6 152.1,400.7 152.7,400.6 153.3,400.8 153.8,401.4 154.4,401.3 155.0,400.2 155.6,401.8 156.2,401.5 156.8,400.8 157.4,401.3 158.0,401.6 158.5,401.8 159.1,401.0 159.7,400.8 160.3,400.7 160.9,401.3 161.5,400.8 162.1,401.7 162.6,401.2 163.2,401.6 163.8,401.2 164.4,401.0 165.0,400.9 165.6,401.7 166.2,400.8 166.8,401.5 167.3,401.8 167.9,401.4 168.5,402.0 169.1,401.3 169.7,401.2 170.3,401.4 170.9,401.1 171.4,401.5 172.0,401.3 172.6,402.0 173.2,401.3 173.8,401.7 174.4,401.6 175.0,401.4 175.6,401.3 176.1,402.1 176.7,402.0 177.3,401.5 177.9,401.2 178.5,401.2 179.1,401.0 179.7,400.8 180.2,401.2 180.8,401.4 181.4,401.8 182.0,401.8 182.6,401.6 183.2,401.3 183.8,401.3 184.4,401.4 184.9,401.5 185.5,401.2 186.1,401.3 186.7,401.3 187.3,401.3 187.9,401.7 188.5,401.9 189.0,401.2 189.6,401.3 190.2,401.5 190.8,401.6 191.4,400.5 192.0,401.8" fill="none" stroke="#000" stroke-width="3.1" stroke-linejoin="round" stroke-linecap="round"/>
<polyline points="63.5,302.8 63.9,302.5 64.4,303.5 64.8,302.7 65.2,301.7 65.6,302.3 66.1,302.6 66.5,302.9 66.9,303.4 67.3,303.1 67.8,304.1 68.2,304.6 68.6,304.5 69.0,304.2 69.5,304.9 69.9,304.9 70.3,306.9 70.7,305.1 71.2,304.6 71.6,305.5 72.0,306.8 72.4,307.4 72.9,306.9 73.3,308.0 73.7,307.1 74.1,308.1 74.6,307.4 75.0,307.4 75.4,309.8 75.9,308.6 76.3,309.4 76.7,310.1 77.1,309.8 77.6,309.8 78.0,309.3 78.4,311.1 78.8,309.7 79.3,309.4 79.7,310.5 80.1,310.8 80.5,311.4 81.0,312.4 81.4,311.6 81.8,311.9 82.2,311.9 82.7,311.0 83.1,312.4 83.5,312.9 83.9,312.4 84.4,314.5 84.8,314.6 85.2,314.4 85.6,314.8 86.1,314.2 86.5,315.1 86.9,314.1 87.4,314.4 87.8,315.2 88.2,316.2 88.6,315.8 89.1,315.9 89.5,317.3 89.9,316.7 90.3,316.7 90.8,317.3 91.2,316.7 91.6,317.1 92.0,318.7 92.5,318.3 92.9,319.2 93.3,318.5 93.7,319.7 94.2,318.8 94.6,319.4 95.0,319.3 95.4,320.3 95.9,321.3 96.3,319.5 96.7,321.0 97.1,320.3 97.6,321.1 98.0,321.2 98.4,320.7 98.9,321.9 99.3,321.5 99.7,323.6 100.1,322.4 100.6,323.4 101.0,323.6 101.4,323.8 101.8,323.9 102.3,323.4 102.7,325.9 103.1,325.0 103.5,325.7 104.0,324.8 104.4,326.1 104.8,325.8 105.2,326.7 105.7,326.3 106.1,326.4 106.5,327.5 106.9,327.5 107.4,328.8 107.8,328.0 108.2,327.9 108.6,329.1 109.1,328.4 109.5,330.7 109.9,330.9 110.4,330.9 110.8,330.7 111.2,330.7 111.6,331.1 112.1,331.4 112.5,331.2 112.9,332.3 113.3,333.1 113.8,333.4 114.2,331.6 114.6,334.8 115.0,333.7 115.5,333.0 115.9,334.0 116.3,335.3 116.7,335.1 117.2,335.0 117.6,335.1 118.0,336.9 118.4,336.2 118.9,336.9 119.3,336.8 119.7,337.0 120.1,338.5 120.6,339.6 121.0,338.8 121.4,338.3 121.9,339.4 122.3,340.1 122.7,339.1 123.1,341.8 123.6,341.0 124.0,342.5 124.4,342.6 124.8,343.1 125.3,342.7 125.7,344.7 126.1,345.0 126.5,346.1 127.0,345.3 127.4,346.4 127.8,346.4 128.2,347.9 128.7,348.1 129.1,347.8 129.5,349.3 129.9,349.8 130.4,350.5 130.8,351.6 131.2,352.9 131.6,353.3 132.1,354.7 132.5,356.0 132.9,358.3 133.4,359.7 133.8,361.5 134.2,363.4 134.6,365.1 135.1,367.4 135.5,370.5 135.9,373.6 136.3,376.5 136.8,379.0 137.2,381.1 137.6,383.4 138.0,386.2 138.5,388.0 138.9,389.1 139.3,391.0 139.7,392.5 140.2,394.1 140.6,395.4 141.0,395.6 141.4,396.6 141.9,397.4 142.3,398.5 142.7,398.2 143.2,398.9 143.6,399.9 144.0,398.6 144.4,398.7 144.9,400.5 145.3,398.9 145.7,399.2 146.1,400.1 146.6,399.3 147.0,400.9 147.4,400.7 147.8,401.0 148.3,400.9 148.7,399.7 149.1,401.2 149.5,401.2 150.0,401.2 150.4,400.5 150.8,400.9 151.2,400.2 151.7,401.3 152.1,401.7 152.5,401.2 152.9,400.9 153.4,401.6 153.8,400.9 154.2,399.9 154.7,401.5 155.1,401.2 155.5,400.4 155.9,401.7 156.4,401.8 156.8,402.0" fill="none" stroke="#138a13" stroke-width="3.1" stroke-linejoin="round" stroke-linecap="round"/>
<g transform="translate(130.80,47.80) scale(1,1.02)"><text font-family="Liberation Sans, sans-serif" font-size="15.5" fill="#e01a22" stroke="#e01a22" stroke-width="0.22">sample B</text></g>
<g transform="translate(132.60,67.20) scale(1,1.02)"><text font-family="Liberation Sans, sans-serif" font-size="15.5" fill="#e01a22" stroke="#e01a22" stroke-width="0.22"><tspan font-style="italic">t</tspan><tspan font-size="11.2" dy="3.5">Co</tspan><tspan dy="-3.5"> = 0.19 nm</tspan></text><rect x="49.22" y="-2.46" width="3.66" height="3.86" fill="#fff"/><rect x="54.63" y="-2.46" width="3.16" height="3.86" fill="#fff"/></g>
<g transform="translate(131.40,89.20) scale(1,1.02)"><text font-family="Liberation Sans, sans-serif" font-size="15.5" fill="#e01a22" stroke="#e01a22" stroke-width="0.22">(+2.0 V)</text></g>
<g transform="translate(348.10,47.80) scale(1,1.02)"><text font-family="Liberation Sans, sans-serif" font-size="15.5" fill="#1a1ad6" stroke="#1a1ad6" stroke-width="0.22">sample B</text></g>
<g transform="translate(349.90,67.20) scale(1,1.02)"><text font-family="Liberation Sans, sans-serif" font-size="15.5" fill="#1a1ad6" stroke="#1a1ad6" stroke-width="0.22"><tspan font-style="italic">t</tspan><tspan font-size="11.2" dy="3.5">Co</tspan><tspan dy="-3.5"> = 0.19 nm</tspan></text><rect x="49.22" y="-2.46" width="3.66" height="3.86" fill="#fff"/><rect x="54.63" y="-2.46" width="3.16" height="3.86" fill="#fff"/></g>
<g transform="translate(348.70,89.20) scale(1,1.02)"><text font-family="Liberation Sans, sans-serif" font-size="15.5" fill="#1a1ad6" stroke="#1a1ad6" stroke-width="0.22">(-2.0 V)</text></g>
<g transform="translate(575.20,52.40) scale(1,1.02)"><text font-family="Liberation Sans, sans-serif" font-size="15.5" fill="#4c4c4c" stroke="#4c4c4c" stroke-width="0.22"><tspan font-style="italic">t</tspan><tspan font-size="11.2" dy="3.5">Co</tspan><tspan dy="-3.5"> = 0.23 nm</tspan></text></g>
<g transform="translate(124.30,184.80) scale(1,1.02)"><text font-family="Liberation Sans, sans-serif" font-size="15.5" fill="#1b801b" stroke="#1b801b" stroke-width="0.22"><tspan font-style="italic">t</tspan><tspan font-size="11.2" dy="3.5">Co</tspan><tspan dy="-3.5"> = 0.15 nm</tspan></text><rect x="49.22" y="-2.46" width="3.66" height="3.86" fill="#fff"/><rect x="54.63" y="-2.46" width="3.16" height="3.86" fill="#fff"/></g>
<g transform="translate(335.50,185.00) scale(1,1.02)"><text font-family="Liberation Sans, sans-serif" font-size="15.5" fill="#1b801b" stroke="#1b801b" stroke-width="0.22"><tspan font-style="italic">t</tspan><tspan font-size="11.2" dy="3.5">Co</tspan><tspan dy="-3.5"> = 0.17 nm</tspan></text><rect x="49.22" y="-2.46" width="3.66" height="3.86" fill="#fff"/><rect x="54.63" y="-2.46" width="3.16" height="3.86" fill="#fff"/></g>
<g transform="translate(575.20,185.60) scale(1,1.02)"><text font-family="Liberation Sans, sans-serif" font-size="15.5" fill="#4c4c4c" stroke="#4c4c4c" stroke-width="0.22"><tspan font-style="italic">t</tspan><tspan font-size="11.2" dy="3.5">Co</tspan><tspan dy="-3.5"> = 0.29 nm</tspan></text></g>
<g transform="translate(119.70,319.70) scale(1,1.02)"><text font-family="Liberation Sans, sans-serif" font-size="15.5" fill="#1b801b" stroke="#1b801b" stroke-width="0.22"><tspan font-style="italic">t</tspan><tspan font-size="11.2" dy="3.5">Co</tspan><tspan dy="-3.5"> = 0.21 nm</tspan></text><rect x="57.84" y="-2.46" width="3.66" height="3.86" fill="#fff"/><rect x="63.25" y="-2.46" width="3.16" height="3.86" fill="#fff"/></g>
<g transform="translate(159.60,14.80) scale(1,1.0)"><text font-family="Liberation Sans, sans-serif" font-size="17.8" fill="#161616" font-weight="bold" letter-spacing="0.5" stroke="#161616" stroke-width="0.45"><tspan>Pt(4.1)/Co(</tspan><tspan font-style="italic">t</tspan><tspan font-weight="normal" font-size="13.3" dy="4.3" stroke-width="0.6">Co</tspan><tspan dy="-4.3">)/Pd(1.7)</tspan></text><rect x="40.85" y="-3.12" width="4.12" height="4.52" fill="#fff"/><rect x="47.85" y="-3.12" width="3.46" height="4.52" fill="#fff"/><rect x="160.65" y="-3.12" width="4.12" height="4.52" fill="#fff"/><rect x="167.64" y="-3.12" width="3.46" height="4.52" fill="#fff"/></g>
<g transform="translate(529.60,14.80) scale(1,1.0)"><text font-family="Liberation Sans, sans-serif" font-size="17.8" fill="#161616" font-weight="bold" letter-spacing="0.5" stroke="#161616" stroke-width="0.45"><tspan>Pt(4.1)/Co(</tspan><tspan font-style="italic">t</tspan><tspan font-weight="normal" font-size="13.3" dy="4.3" stroke-width="0.6">Co</tspan><tspan dy="-4.3">)</tspan></text><rect x="40.85" y="-3.12" width="4.12" height="4.52" fill="#fff"/><rect x="47.85" y="-3.12" width="3.46" height="4.52" fill="#fff"/></g>
<text transform="translate(15.6,279.9) rotate(-90)" font-family="Liberation Sans, sans-serif" font-size="19.2" fill="#161616">Normalised</text>
<text transform="translate(15.6,177.39999999999998) rotate(-90)" font-family="Liberation Sans, sans-serif" font-size="20.2" font-style="italic" fill="#161616">m</text>
<text transform="translate(20.1,163.29999999999998) rotate(-90)" font-family="Liberation Sans, sans-serif" font-size="12.5" fill="#161616">&#8869;</text>
<text transform="translate(468.2,222.7) rotate(-90)" font-family="Liberation Sans, sans-serif" font-size="19.2" fill="#161616">Normalised</text>
<text transform="translate(468.2,120.19999999999999) rotate(-90)" font-family="Liberation Sans, sans-serif" font-size="20.2" font-style="italic" fill="#161616">m</text>
<text transform="translate(472.7,106.1) rotate(-90)" font-family="Liberation Sans, sans-serif" font-size="12.5" fill="#161616">&#8869;</text>
<g transform="translate(119.80,442.00) scale(1,1.0)"><text font-family="Liberation Sans, sans-serif" font-size="19.2" fill="#161616" font-style="italic" stroke="#161616" stroke-width="0.22">T</text></g>
<g transform="translate(133.30,442.00) scale(1,1.0)"><text font-family="Liberation Sans, sans-serif" font-size="18.6" fill="#161616" stroke="#161616" stroke-width="0.22">/</text></g>
<g transform="translate(146.60,442.00) scale(1,1.0)"><text font-family="Liberation Sans, sans-serif" font-size="19.2" fill="#161616" font-style="italic" stroke="#161616" stroke-width="0.22">T</text></g>
<g transform="translate(156.80,445.60) scale(1,1.0)"><text font-family="Liberation Sans, sans-serif" font-size="14" fill="#161616" stroke="#161616" stroke-width="0.22">C</text></g>
<g transform="translate(330.10,307.60) scale(1,1.0)"><text font-family="Liberation Sans, sans-serif" font-size="19.2" fill="#161616" font-style="italic" stroke="#161616" stroke-width="0.22">T</text></g>
<g transform="translate(344.60,307.60) scale(1,1.0)"><text font-family="Liberation Sans, sans-serif" font-size="18.6" fill="#161616" stroke="#161616" stroke-width="0.22">/</text></g>
<g transform="translate(357.60,307.60) scale(1,1.0)"><text font-family="Liberation Sans, sans-serif" font-size="19.2" fill="#161616" font-style="italic" stroke="#161616" stroke-width="0.22">T</text></g>
<g transform="translate(367.10,311.20) scale(1,1.0)"><text font-family="Liberation Sans, sans-serif" font-size="14" fill="#161616" stroke="#161616" stroke-width="0.22">C</text></g>
<g transform="translate(569.80,315.60) scale(1,1.0)"><text font-family="Liberation Sans, sans-serif" font-size="19.2" fill="#161616" font-style="italic" stroke="#161616" stroke-width="0.22">T</text></g>
<g transform="translate(584.30,315.60) scale(1,1.0)"><text font-family="Liberation Sans, sans-serif" font-size="18.6" fill="#161616" stroke="#161616" stroke-width="0.22">/</text></g>
<g transform="translate(597.30,315.60) scale(1,1.0)"><text font-family="Liberation Sans, sans-serif" font-size="19.2" fill="#161616" font-style="italic" stroke="#161616" stroke-width="0.22">T</text></g>
<g transform="translate(606.80,319.20) scale(1,1.0)"><text font-family="Liberation Sans, sans-serif" font-size="14" fill="#161616" stroke="#161616" stroke-width="0.22">C</text></g>
<line x1="285" y1="354.3" x2="319.5" y2="354.3" stroke="#000" stroke-width="3.0" stroke-linecap="round"/>
<g transform="translate(324.20,359.30) scale(1,1.05)"><text font-family="Liberation Sans, sans-serif" font-size="15.4" fill="#161616" stroke="#161616" stroke-width="0.22">reference curve [Pt(4.1)/Co(0.20)/Pd(1.7)]</text><rect x="147.88" y="-2.45" width="3.64" height="3.85" fill="#fff"/><rect x="153.26" y="-2.45" width="3.14" height="3.85" fill="#fff"/><rect x="253.86" y="-2.45" width="3.64" height="3.85" fill="#fff"/><rect x="259.23" y="-2.45" width="3.14" height="3.85" fill="#fff"/></g>
</svg></body></html>
